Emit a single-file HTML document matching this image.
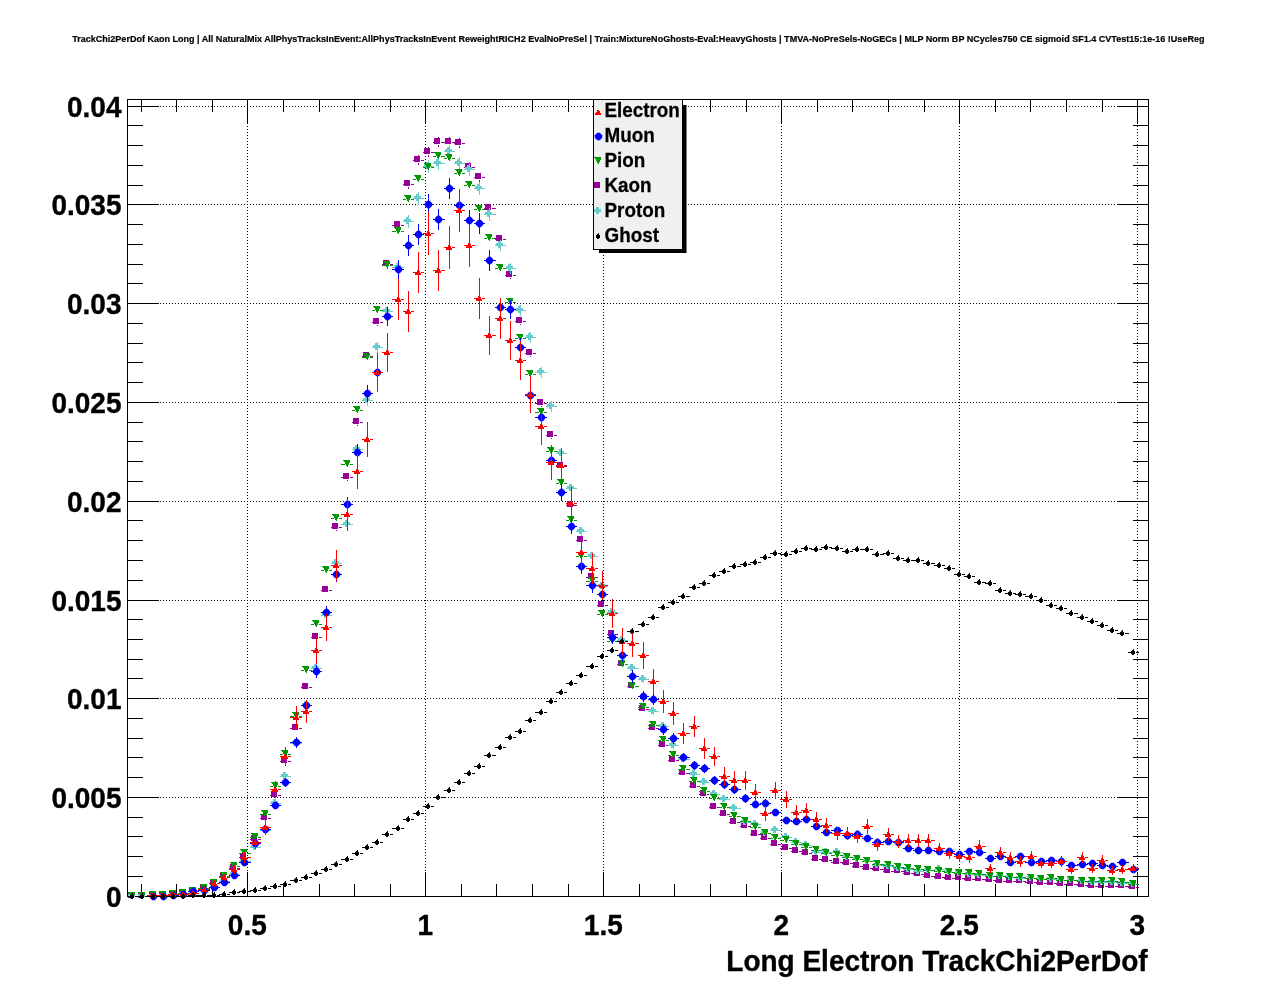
<!DOCTYPE html>
<html><head><meta charset="utf-8"><title>TrackChi2PerDof</title>
<style>html,body{margin:0;padding:0;background:#fff;}svg{display:block;}text{font-family:"Liberation Sans",Arial,Helvetica,sans-serif;font-weight:bold;fill:#000;}</style></head><body>
<svg width="1276" height="996" viewBox="0 0 1276 996">
<rect x="0" y="0" width="1276" height="996" fill="#fff"/>
<text x="72.2" y="42.3" font-size="9.4" stroke="#000" stroke-width="0.2" textLength="1132.3" lengthAdjust="spacingAndGlyphs">TrackChi2PerDof Kaon Long | All NaturalMix AllPhysTracksInEvent:AllPhysTracksInEvent ReweightRICH2 EvalNoPreSel | Train:MixtureNoGhosts-Eval:HeavyGhosts | TMVA-NoPreSels-NoGECs | MLP Norm BP NCycles750 CE sigmoid SF1.4 CVTest15:1e-16 !UseReg</text>
<g stroke="#000" stroke-width="1" stroke-dasharray="1 2" stroke-dashoffset="1" fill="none" shape-rendering="crispEdges">
<line x1="247.5" y1="99.5" x2="247.5" y2="896.5"/>
<line x1="425.5" y1="99.5" x2="425.5" y2="896.5"/>
<line x1="603.5" y1="99.5" x2="603.5" y2="896.5"/>
<line x1="781.5" y1="99.5" x2="781.5" y2="896.5"/>
<line x1="959.5" y1="99.5" x2="959.5" y2="896.5"/>
<line x1="1137.5" y1="99.5" x2="1137.5" y2="896.5"/>
<line x1="127.5" y1="797.5" x2="1148.5" y2="797.5"/>
<line x1="127.5" y1="698.5" x2="1148.5" y2="698.5"/>
<line x1="127.5" y1="600.5" x2="1148.5" y2="600.5"/>
<line x1="127.5" y1="501.5" x2="1148.5" y2="501.5"/>
<line x1="127.5" y1="402.5" x2="1148.5" y2="402.5"/>
<line x1="127.5" y1="303.5" x2="1148.5" y2="303.5"/>
<line x1="127.5" y1="204.5" x2="1148.5" y2="204.5"/>
<line x1="127.5" y1="106.5" x2="1148.5" y2="106.5"/>
</g>
<path id="kaon" fill="#990099" shape-rendering="crispEdges" d="M127 896h3v1h-3zM135 896h3v1h-3zM128 892h6v6h-6zM137 896h3v1h-3zM145 896h3v1h-3zM138 892h6v6h-6zM147 895h4v1h-4zM156 895h3v1h-3zM149 891h6v6h-6zM158 895h3v1h-3zM166 895h3v1h-3zM159 891h6v6h-6zM168 894h3v1h-3zM176 894h3v1h-3zM169 890h6v6h-6zM178 893h3v1h-3zM186 893h3v1h-3zM179 889h6v6h-6zM188 891h3v1h-3zM196 891h3v1h-3zM189 887h6v6h-6zM198 888h4v1h-4zM207 888h3v1h-3zM200 884h6v6h-6zM209 883h3v1h-3zM217 883h3v1h-3zM210 879h6v6h-6zM219 876h3v1h-3zM227 876h3v1h-3zM220 872h6v6h-6zM229 868h3v1h-3zM237 868h3v1h-3zM230 864h6v6h-6zM239 857h3v1h-3zM247 857h4v1h-4zM240 853h6v6h-6zM250 839h3v1h-3zM258 839h3v1h-3zM251 835h6v6h-6zM260 818h3v1h-3zM268 818h3v1h-3zM261 814h6v6h-6zM270 795h3v1h-3zM278 795h3v1h-3zM271 791h6v6h-6zM280 761h3v1h-3zM288 761h3v1h-3zM281 757h6v6h-6zM290 728h4v1h-4zM299 728h3v1h-3zM292 724h6v6h-6zM301 687h3v1h-3zM309 687h3v1h-3zM306 684h1v1h-1zM302 683h6v6h-6zM311 637h3v1h-3zM319 637h3v1h-3zM316 634h1v1h-1zM312 633h6v6h-6zM321 590h3v1h-3zM329 590h3v1h-3zM326 587h1v1h-1zM322 586h6v6h-6zM331 527h3v1h-3zM339 527h3v1h-3zM336 524h1v1h-1zM336 530h1v1h-1zM332 523h6v6h-6zM341 477h4v1h-4zM350 477h3v1h-3zM347 474h1v1h-1zM347 480h1v1h-1zM343 473h6v6h-6zM352 422h3v1h-3zM360 422h3v1h-3zM357 418h1v2h-1zM357 425h1v1h-1zM353 418h6v6h-6zM362 356h3v1h-3zM370 356h3v1h-3zM367 352h1v2h-1zM367 359h1v1h-1zM363 352h6v6h-6zM372 322h3v1h-3zM380 322h3v1h-3zM377 318h1v2h-1zM377 325h1v1h-1zM373 318h6v6h-6zM382 264h3v1h-3zM390 264h3v1h-3zM387 260h1v2h-1zM387 267h1v2h-1zM383 260h6v6h-6zM392 225h4v1h-4zM401 225h3v1h-3zM398 221h1v2h-1zM398 228h1v2h-1zM394 221h6v6h-6zM403 184h3v1h-3zM411 184h3v1h-3zM408 180h1v2h-1zM408 187h1v2h-1zM404 180h6v6h-6zM413 160h3v1h-3zM421 160h3v1h-3zM418 155h1v3h-1zM418 163h1v2h-1zM414 156h6v6h-6zM423 152h3v1h-3zM431 152h3v1h-3zM428 147h1v3h-1zM428 155h1v2h-1zM424 148h6v6h-6zM433 142h3v1h-3zM441 142h4v1h-4zM438 137h1v3h-1zM438 145h1v2h-1zM434 138h6v6h-6zM444 142h3v1h-3zM452 142h3v1h-3zM449 137h1v3h-1zM449 145h1v2h-1zM445 138h6v6h-6zM454 143h3v1h-3zM462 143h3v1h-3zM459 138h1v3h-1zM459 146h1v2h-1zM455 139h6v6h-6zM464 167h3v1h-3zM472 167h3v1h-3zM469 162h1v3h-1zM469 170h1v2h-1zM465 163h6v6h-6zM474 177h3v1h-3zM482 177h3v1h-3zM479 173h1v2h-1zM479 180h1v2h-1zM475 173h6v6h-6zM484 208h3v1h-3zM492 208h4v1h-4zM489 204h1v2h-1zM489 211h1v2h-1zM485 204h6v6h-6zM495 239h3v1h-3zM503 239h3v1h-3zM500 235h1v2h-1zM500 242h1v2h-1zM496 235h6v6h-6zM505 275h3v1h-3zM513 275h3v1h-3zM510 271h1v2h-1zM510 278h1v1h-1zM506 271h6v6h-6zM515 321h3v1h-3zM523 321h3v1h-3zM520 317h1v2h-1zM520 324h1v1h-1zM516 317h6v6h-6zM525 353h3v1h-3zM533 353h3v1h-3zM530 349h1v2h-1zM530 356h1v1h-1zM526 349h6v6h-6zM535 403h4v1h-4zM544 403h3v1h-3zM541 399h1v2h-1zM541 406h1v1h-1zM537 399h6v6h-6zM546 435h3v1h-3zM554 435h3v1h-3zM551 431h1v2h-1zM551 438h1v1h-1zM547 431h6v6h-6zM556 466h3v1h-3zM564 466h3v1h-3zM561 462h1v2h-1zM561 469h1v1h-1zM557 462h6v6h-6zM566 505h3v1h-3zM574 505h3v1h-3zM571 502h1v1h-1zM571 508h1v1h-1zM567 501h6v6h-6zM576 540h3v1h-3zM584 540h3v1h-3zM581 537h1v1h-1zM581 543h1v1h-1zM577 536h6v6h-6zM586 577h4v1h-4zM595 577h3v1h-3zM592 574h1v1h-1zM588 573h6v6h-6zM597 605h3v1h-3zM605 605h3v1h-3zM602 602h1v1h-1zM598 601h6v6h-6zM607 634h3v1h-3zM615 634h3v1h-3zM612 631h1v1h-1zM608 630h6v6h-6zM617 664h3v1h-3zM625 664h3v1h-3zM622 661h1v1h-1zM618 660h6v6h-6zM627 686h3v1h-3zM635 686h4v1h-4zM632 683h1v1h-1zM628 682h6v6h-6zM638 709h3v1h-3zM646 709h3v1h-3zM639 705h6v6h-6zM648 728h3v1h-3zM656 728h3v1h-3zM649 724h6v6h-6zM658 745h3v1h-3zM666 745h3v1h-3zM659 741h6v6h-6zM668 760h3v1h-3zM676 760h3v1h-3zM669 756h6v6h-6zM678 773h3v1h-3zM686 773h4v1h-4zM679 769h6v6h-6zM689 786h3v1h-3zM697 786h3v1h-3zM690 782h6v6h-6zM699 794h3v1h-3zM707 794h3v1h-3zM700 790h6v6h-6zM709 807h3v1h-3zM717 807h3v1h-3zM710 803h6v6h-6zM719 814h3v1h-3zM727 814h3v1h-3zM720 810h6v6h-6zM729 822h3v1h-3zM737 822h4v1h-4zM730 818h6v6h-6zM740 826h3v1h-3zM748 826h3v1h-3zM741 822h6v6h-6zM750 834h3v1h-3zM758 834h3v1h-3zM751 830h6v6h-6zM760 838h3v1h-3zM768 838h3v1h-3zM761 834h6v6h-6zM770 844h3v1h-3zM778 844h3v1h-3zM771 840h6v6h-6zM780 848h4v1h-4zM789 848h3v1h-3zM782 844h6v6h-6zM791 851h3v1h-3zM799 851h3v1h-3zM792 847h6v6h-6zM801 853h3v1h-3zM809 853h3v1h-3zM802 849h6v6h-6zM811 859h3v1h-3zM819 859h3v1h-3zM812 855h6v6h-6zM821 860h3v1h-3zM829 860h3v1h-3zM822 856h6v6h-6zM831 862h4v1h-4zM840 862h3v1h-3zM833 858h6v6h-6zM842 863h3v1h-3zM850 863h3v1h-3zM843 859h6v6h-6zM852 866h3v1h-3zM860 866h3v1h-3zM853 862h6v6h-6zM862 868h3v1h-3zM870 868h3v1h-3zM863 864h6v6h-6zM872 869h3v1h-3zM880 869h4v1h-4zM873 865h6v6h-6zM883 871h3v1h-3zM891 871h3v1h-3zM884 867h6v6h-6zM893 871h3v1h-3zM901 871h3v1h-3zM894 867h6v6h-6zM903 873h3v1h-3zM911 873h3v1h-3zM904 869h6v6h-6zM913 874h3v1h-3zM921 874h3v1h-3zM914 870h6v6h-6zM923 876h3v1h-3zM931 876h4v1h-4zM924 872h6v6h-6zM934 877h3v1h-3zM942 877h3v1h-3zM935 873h6v6h-6zM944 878h3v1h-3zM952 878h3v1h-3zM945 874h6v6h-6zM954 878h3v1h-3zM962 878h3v1h-3zM955 874h6v6h-6zM964 879h3v1h-3zM972 879h3v1h-3zM965 875h6v6h-6zM974 879h3v1h-3zM982 879h4v1h-4zM975 875h6v6h-6zM985 880h3v1h-3zM993 880h3v1h-3zM986 876h6v6h-6zM995 881h3v1h-3zM1003 881h3v1h-3zM996 877h6v6h-6zM1005 881h3v1h-3zM1013 881h3v1h-3zM1006 877h6v6h-6zM1015 881h3v1h-3zM1023 881h3v1h-3zM1016 877h6v6h-6zM1025 882h4v1h-4zM1034 882h3v1h-3zM1027 878h6v6h-6zM1036 883h3v1h-3zM1044 883h3v1h-3zM1037 879h6v6h-6zM1046 883h3v1h-3zM1054 883h3v1h-3zM1047 879h6v6h-6zM1056 884h3v1h-3zM1064 884h3v1h-3zM1057 880h6v6h-6zM1066 884h3v1h-3zM1074 884h4v1h-4zM1067 880h6v6h-6zM1077 885h3v1h-3zM1085 885h3v1h-3zM1078 881h6v6h-6zM1087 886h3v1h-3zM1095 886h3v1h-3zM1088 882h6v6h-6zM1097 886h3v1h-3zM1105 886h3v1h-3zM1098 882h6v6h-6zM1107 886h3v1h-3zM1115 886h3v1h-3zM1108 882h6v6h-6zM1117 886h3v1h-3zM1125 886h4v1h-4zM1118 882h6v6h-6zM1128 887h3v1h-3zM1136 887h3v1h-3zM1129 883h6v6h-6z"/>
<rect x="127.5" y="99.5" width="1021.0" height="797.0" fill="none" stroke="#000" stroke-width="1" shape-rendering="crispEdges"/>
<g stroke="#000" stroke-width="1" fill="none" shape-rendering="crispEdges">
<line x1="141.5" y1="896.5" x2="141.5" y2="884.0"/>
<line x1="141.5" y1="99.5" x2="141.5" y2="111.5"/>
<line x1="176.5" y1="896.5" x2="176.5" y2="884.0"/>
<line x1="176.5" y1="99.5" x2="176.5" y2="111.5"/>
<line x1="212.5" y1="896.5" x2="212.5" y2="884.0"/>
<line x1="212.5" y1="99.5" x2="212.5" y2="111.5"/>
<line x1="247.5" y1="896.5" x2="247.5" y2="872.0"/>
<line x1="247.5" y1="99.5" x2="247.5" y2="123.5"/>
<line x1="283.5" y1="896.5" x2="283.5" y2="884.0"/>
<line x1="283.5" y1="99.5" x2="283.5" y2="111.5"/>
<line x1="319.5" y1="896.5" x2="319.5" y2="884.0"/>
<line x1="319.5" y1="99.5" x2="319.5" y2="111.5"/>
<line x1="354.5" y1="896.5" x2="354.5" y2="884.0"/>
<line x1="354.5" y1="99.5" x2="354.5" y2="111.5"/>
<line x1="390.5" y1="896.5" x2="390.5" y2="884.0"/>
<line x1="390.5" y1="99.5" x2="390.5" y2="111.5"/>
<line x1="425.5" y1="896.5" x2="425.5" y2="872.0"/>
<line x1="425.5" y1="99.5" x2="425.5" y2="123.5"/>
<line x1="461.5" y1="896.5" x2="461.5" y2="884.0"/>
<line x1="461.5" y1="99.5" x2="461.5" y2="111.5"/>
<line x1="496.5" y1="896.5" x2="496.5" y2="884.0"/>
<line x1="496.5" y1="99.5" x2="496.5" y2="111.5"/>
<line x1="532.5" y1="896.5" x2="532.5" y2="884.0"/>
<line x1="532.5" y1="99.5" x2="532.5" y2="111.5"/>
<line x1="568.5" y1="896.5" x2="568.5" y2="884.0"/>
<line x1="568.5" y1="99.5" x2="568.5" y2="111.5"/>
<line x1="603.5" y1="896.5" x2="603.5" y2="872.0"/>
<line x1="603.5" y1="99.5" x2="603.5" y2="123.5"/>
<line x1="639.5" y1="896.5" x2="639.5" y2="884.0"/>
<line x1="639.5" y1="99.5" x2="639.5" y2="111.5"/>
<line x1="674.5" y1="896.5" x2="674.5" y2="884.0"/>
<line x1="674.5" y1="99.5" x2="674.5" y2="111.5"/>
<line x1="710.5" y1="896.5" x2="710.5" y2="884.0"/>
<line x1="710.5" y1="99.5" x2="710.5" y2="111.5"/>
<line x1="746.5" y1="896.5" x2="746.5" y2="884.0"/>
<line x1="746.5" y1="99.5" x2="746.5" y2="111.5"/>
<line x1="781.5" y1="896.5" x2="781.5" y2="872.0"/>
<line x1="781.5" y1="99.5" x2="781.5" y2="123.5"/>
<line x1="817.5" y1="896.5" x2="817.5" y2="884.0"/>
<line x1="817.5" y1="99.5" x2="817.5" y2="111.5"/>
<line x1="852.5" y1="896.5" x2="852.5" y2="884.0"/>
<line x1="852.5" y1="99.5" x2="852.5" y2="111.5"/>
<line x1="888.5" y1="896.5" x2="888.5" y2="884.0"/>
<line x1="888.5" y1="99.5" x2="888.5" y2="111.5"/>
<line x1="924.5" y1="896.5" x2="924.5" y2="884.0"/>
<line x1="924.5" y1="99.5" x2="924.5" y2="111.5"/>
<line x1="959.5" y1="896.5" x2="959.5" y2="872.0"/>
<line x1="959.5" y1="99.5" x2="959.5" y2="123.5"/>
<line x1="995.5" y1="896.5" x2="995.5" y2="884.0"/>
<line x1="995.5" y1="99.5" x2="995.5" y2="111.5"/>
<line x1="1030.5" y1="896.5" x2="1030.5" y2="884.0"/>
<line x1="1030.5" y1="99.5" x2="1030.5" y2="111.5"/>
<line x1="1066.5" y1="896.5" x2="1066.5" y2="884.0"/>
<line x1="1066.5" y1="99.5" x2="1066.5" y2="111.5"/>
<line x1="1102.5" y1="896.5" x2="1102.5" y2="884.0"/>
<line x1="1102.5" y1="99.5" x2="1102.5" y2="111.5"/>
<line x1="1137.5" y1="896.5" x2="1137.5" y2="872.0"/>
<line x1="1137.5" y1="99.5" x2="1137.5" y2="123.5"/>
<line x1="127.5" y1="896.5" x2="158.5" y2="896.5"/>
<line x1="1148.5" y1="896.5" x2="1117.5" y2="896.5"/>
<line x1="127.5" y1="876.5" x2="143.0" y2="876.5"/>
<line x1="1148.5" y1="876.5" x2="1133.0" y2="876.5"/>
<line x1="127.5" y1="856.5" x2="143.0" y2="856.5"/>
<line x1="1148.5" y1="856.5" x2="1133.0" y2="856.5"/>
<line x1="127.5" y1="836.5" x2="143.0" y2="836.5"/>
<line x1="1148.5" y1="836.5" x2="1133.0" y2="836.5"/>
<line x1="127.5" y1="817.5" x2="143.0" y2="817.5"/>
<line x1="1148.5" y1="817.5" x2="1133.0" y2="817.5"/>
<line x1="127.5" y1="797.5" x2="158.5" y2="797.5"/>
<line x1="1148.5" y1="797.5" x2="1117.5" y2="797.5"/>
<line x1="127.5" y1="777.5" x2="143.0" y2="777.5"/>
<line x1="1148.5" y1="777.5" x2="1133.0" y2="777.5"/>
<line x1="127.5" y1="757.5" x2="143.0" y2="757.5"/>
<line x1="1148.5" y1="757.5" x2="1133.0" y2="757.5"/>
<line x1="127.5" y1="738.5" x2="143.0" y2="738.5"/>
<line x1="1148.5" y1="738.5" x2="1133.0" y2="738.5"/>
<line x1="127.5" y1="718.5" x2="143.0" y2="718.5"/>
<line x1="1148.5" y1="718.5" x2="1133.0" y2="718.5"/>
<line x1="127.5" y1="698.5" x2="158.5" y2="698.5"/>
<line x1="1148.5" y1="698.5" x2="1117.5" y2="698.5"/>
<line x1="127.5" y1="678.5" x2="143.0" y2="678.5"/>
<line x1="1148.5" y1="678.5" x2="1133.0" y2="678.5"/>
<line x1="127.5" y1="659.5" x2="143.0" y2="659.5"/>
<line x1="1148.5" y1="659.5" x2="1133.0" y2="659.5"/>
<line x1="127.5" y1="639.5" x2="143.0" y2="639.5"/>
<line x1="1148.5" y1="639.5" x2="1133.0" y2="639.5"/>
<line x1="127.5" y1="619.5" x2="143.0" y2="619.5"/>
<line x1="1148.5" y1="619.5" x2="1133.0" y2="619.5"/>
<line x1="127.5" y1="600.5" x2="158.5" y2="600.5"/>
<line x1="1148.5" y1="600.5" x2="1117.5" y2="600.5"/>
<line x1="127.5" y1="580.5" x2="143.0" y2="580.5"/>
<line x1="1148.5" y1="580.5" x2="1133.0" y2="580.5"/>
<line x1="127.5" y1="560.5" x2="143.0" y2="560.5"/>
<line x1="1148.5" y1="560.5" x2="1133.0" y2="560.5"/>
<line x1="127.5" y1="540.5" x2="143.0" y2="540.5"/>
<line x1="1148.5" y1="540.5" x2="1133.0" y2="540.5"/>
<line x1="127.5" y1="520.5" x2="143.0" y2="520.5"/>
<line x1="1148.5" y1="520.5" x2="1133.0" y2="520.5"/>
<line x1="127.5" y1="501.5" x2="158.5" y2="501.5"/>
<line x1="1148.5" y1="501.5" x2="1117.5" y2="501.5"/>
<line x1="127.5" y1="481.5" x2="143.0" y2="481.5"/>
<line x1="1148.5" y1="481.5" x2="1133.0" y2="481.5"/>
<line x1="127.5" y1="461.5" x2="143.0" y2="461.5"/>
<line x1="1148.5" y1="461.5" x2="1133.0" y2="461.5"/>
<line x1="127.5" y1="441.5" x2="143.0" y2="441.5"/>
<line x1="1148.5" y1="441.5" x2="1133.0" y2="441.5"/>
<line x1="127.5" y1="422.5" x2="143.0" y2="422.5"/>
<line x1="1148.5" y1="422.5" x2="1133.0" y2="422.5"/>
<line x1="127.5" y1="402.5" x2="158.5" y2="402.5"/>
<line x1="1148.5" y1="402.5" x2="1117.5" y2="402.5"/>
<line x1="127.5" y1="382.5" x2="143.0" y2="382.5"/>
<line x1="1148.5" y1="382.5" x2="1133.0" y2="382.5"/>
<line x1="127.5" y1="362.5" x2="143.0" y2="362.5"/>
<line x1="1148.5" y1="362.5" x2="1133.0" y2="362.5"/>
<line x1="127.5" y1="343.5" x2="143.0" y2="343.5"/>
<line x1="1148.5" y1="343.5" x2="1133.0" y2="343.5"/>
<line x1="127.5" y1="323.5" x2="143.0" y2="323.5"/>
<line x1="1148.5" y1="323.5" x2="1133.0" y2="323.5"/>
<line x1="127.5" y1="303.5" x2="158.5" y2="303.5"/>
<line x1="1148.5" y1="303.5" x2="1117.5" y2="303.5"/>
<line x1="127.5" y1="283.5" x2="143.0" y2="283.5"/>
<line x1="1148.5" y1="283.5" x2="1133.0" y2="283.5"/>
<line x1="127.5" y1="264.5" x2="143.0" y2="264.5"/>
<line x1="1148.5" y1="264.5" x2="1133.0" y2="264.5"/>
<line x1="127.5" y1="244.5" x2="143.0" y2="244.5"/>
<line x1="1148.5" y1="244.5" x2="1133.0" y2="244.5"/>
<line x1="127.5" y1="224.5" x2="143.0" y2="224.5"/>
<line x1="1148.5" y1="224.5" x2="1133.0" y2="224.5"/>
<line x1="127.5" y1="204.5" x2="158.5" y2="204.5"/>
<line x1="1148.5" y1="204.5" x2="1117.5" y2="204.5"/>
<line x1="127.5" y1="185.5" x2="143.0" y2="185.5"/>
<line x1="1148.5" y1="185.5" x2="1133.0" y2="185.5"/>
<line x1="127.5" y1="165.5" x2="143.0" y2="165.5"/>
<line x1="1148.5" y1="165.5" x2="1133.0" y2="165.5"/>
<line x1="127.5" y1="145.5" x2="143.0" y2="145.5"/>
<line x1="1148.5" y1="145.5" x2="1133.0" y2="145.5"/>
<line x1="127.5" y1="125.5" x2="143.0" y2="125.5"/>
<line x1="1148.5" y1="125.5" x2="1133.0" y2="125.5"/>
<line x1="127.5" y1="106.5" x2="158.5" y2="106.5"/>
<line x1="1148.5" y1="106.5" x2="1117.5" y2="106.5"/>
</g>
<path id="proton" fill="#66cccc" shape-rendering="crispEdges" d="M127 896h3v1h-3zM135 896h3v1h-3zM130 892h3v2h-3zM128 894h7v3h-7zM130 897h3v2h-3zM137 896h3v1h-3zM145 896h3v1h-3zM140 892h3v2h-3zM138 894h7v3h-7zM140 897h3v2h-3zM147 896h4v1h-4zM156 896h3v1h-3zM151 892h3v2h-3zM149 894h7v3h-7zM151 897h3v2h-3zM158 896h3v1h-3zM166 896h3v1h-3zM161 892h3v2h-3zM159 894h7v3h-7zM161 897h3v2h-3zM168 895h3v1h-3zM176 895h3v1h-3zM171 891h3v2h-3zM169 893h7v3h-7zM171 896h3v2h-3zM178 894h3v1h-3zM186 894h3v1h-3zM181 890h3v2h-3zM179 892h7v3h-7zM181 895h3v2h-3zM188 893h3v1h-3zM196 893h3v1h-3zM191 889h3v2h-3zM189 891h7v3h-7zM191 894h3v2h-3zM198 890h4v1h-4zM207 890h3v1h-3zM202 886h3v2h-3zM200 888h7v3h-7zM202 891h3v2h-3zM209 887h3v1h-3zM217 887h3v1h-3zM212 883h3v2h-3zM210 885h7v3h-7zM212 888h3v2h-3zM219 881h3v1h-3zM227 881h3v1h-3zM222 877h3v2h-3zM220 879h7v3h-7zM222 882h3v2h-3zM229 874h3v1h-3zM237 874h3v1h-3zM232 870h3v2h-3zM230 872h7v3h-7zM232 875h3v2h-3zM239 861h3v1h-3zM247 861h4v1h-4zM242 857h3v2h-3zM240 859h7v3h-7zM242 862h3v2h-3zM250 847h3v1h-3zM258 847h3v1h-3zM253 843h3v2h-3zM251 845h7v3h-7zM253 848h3v2h-3zM260 830h3v1h-3zM268 830h3v1h-3zM263 826h3v2h-3zM261 828h7v3h-7zM263 831h3v2h-3zM270 803h3v1h-3zM278 803h3v1h-3zM273 799h3v2h-3zM271 801h7v3h-7zM273 804h3v2h-3zM280 776h3v1h-3zM288 776h3v1h-3zM283 772h3v2h-3zM281 774h7v3h-7zM283 777h3v2h-3zM290 743h4v1h-4zM299 743h3v1h-3zM296 740h1v1h-1zM296 746h1v1h-1zM294 739h3v2h-3zM292 741h7v3h-7zM294 744h3v2h-3zM301 705h3v1h-3zM309 705h3v1h-3zM306 702h1v1h-1zM306 708h1v1h-1zM304 701h3v2h-3zM302 703h7v3h-7zM304 706h3v2h-3zM311 668h3v1h-3zM319 668h3v1h-3zM316 665h1v1h-1zM316 671h1v1h-1zM314 664h3v2h-3zM312 666h7v3h-7zM314 669h3v2h-3zM321 615h3v1h-3zM329 615h3v1h-3zM326 612h1v1h-1zM326 618h1v1h-1zM324 611h3v2h-3zM322 613h7v3h-7zM324 616h3v2h-3zM331 563h3v1h-3zM339 563h3v1h-3zM336 559h1v2h-1zM336 566h1v2h-1zM334 559h3v2h-3zM332 561h7v3h-7zM334 564h3v2h-3zM341 524h4v1h-4zM350 524h3v1h-3zM347 520h1v2h-1zM347 527h1v2h-1zM345 520h3v2h-3zM343 522h7v3h-7zM345 525h3v2h-3zM352 449h3v1h-3zM360 449h3v1h-3zM357 445h1v2h-1zM357 452h1v2h-1zM355 445h3v2h-3zM353 447h7v3h-7zM355 450h3v2h-3zM362 400h3v1h-3zM370 400h3v1h-3zM367 395h1v3h-1zM367 403h1v3h-1zM365 396h3v2h-3zM363 398h7v3h-7zM365 401h3v2h-3zM372 347h3v1h-3zM380 347h3v1h-3zM377 342h1v3h-1zM377 350h1v3h-1zM375 343h3v2h-3zM373 345h7v3h-7zM375 348h3v2h-3zM382 311h3v1h-3zM390 311h3v1h-3zM387 306h1v3h-1zM387 314h1v3h-1zM385 307h3v2h-3zM383 309h7v3h-7zM385 312h3v2h-3zM392 267h4v1h-4zM401 267h3v1h-3zM398 262h1v3h-1zM398 270h1v3h-1zM396 263h3v2h-3zM394 265h7v3h-7zM396 268h3v2h-3zM403 221h3v1h-3zM411 221h3v1h-3zM408 215h1v4h-1zM408 224h1v4h-1zM406 217h3v2h-3zM404 219h7v3h-7zM406 222h3v2h-3zM413 198h3v1h-3zM421 198h3v1h-3zM418 192h1v4h-1zM418 201h1v4h-1zM416 194h3v2h-3zM414 196h7v3h-7zM416 199h3v2h-3zM423 166h3v1h-3zM431 166h3v1h-3zM428 160h1v4h-1zM428 169h1v4h-1zM426 162h3v2h-3zM424 164h7v3h-7zM426 167h3v2h-3zM433 163h3v1h-3zM441 163h4v1h-4zM438 157h1v4h-1zM438 166h1v4h-1zM436 159h3v2h-3zM434 161h7v3h-7zM436 164h3v2h-3zM444 151h3v1h-3zM452 151h3v1h-3zM449 145h1v4h-1zM449 154h1v4h-1zM447 147h3v2h-3zM445 149h7v3h-7zM447 152h3v2h-3zM454 163h3v1h-3zM462 163h3v1h-3zM459 157h1v4h-1zM459 166h1v4h-1zM457 159h3v2h-3zM455 161h7v3h-7zM457 164h3v2h-3zM464 169h3v1h-3zM472 169h3v1h-3zM469 163h1v4h-1zM469 172h1v4h-1zM467 165h3v2h-3zM465 167h7v3h-7zM467 170h3v2h-3zM474 188h3v1h-3zM482 188h3v1h-3zM479 182h1v4h-1zM479 191h1v4h-1zM477 184h3v2h-3zM475 186h7v3h-7zM477 189h3v2h-3zM484 214h3v1h-3zM492 214h4v1h-4zM489 208h1v4h-1zM489 217h1v4h-1zM487 210h3v2h-3zM485 212h7v3h-7zM487 215h3v2h-3zM495 245h3v1h-3zM503 245h3v1h-3zM500 240h1v3h-1zM500 248h1v3h-1zM498 241h3v2h-3zM496 243h7v3h-7zM498 246h3v2h-3zM505 268h3v1h-3zM513 268h3v1h-3zM510 263h1v3h-1zM510 271h1v3h-1zM508 264h3v2h-3zM506 266h7v3h-7zM508 269h3v2h-3zM515 310h3v1h-3zM523 310h3v1h-3zM520 305h1v3h-1zM520 313h1v3h-1zM518 306h3v2h-3zM516 308h7v3h-7zM518 311h3v2h-3zM525 337h3v1h-3zM533 337h3v1h-3zM530 332h1v3h-1zM530 340h1v3h-1zM528 333h3v2h-3zM526 335h7v3h-7zM528 338h3v2h-3zM535 372h4v1h-4zM544 372h3v1h-3zM541 367h1v3h-1zM541 375h1v3h-1zM539 368h3v2h-3zM537 370h7v3h-7zM539 373h3v2h-3zM546 406h3v1h-3zM554 406h3v1h-3zM551 401h1v3h-1zM551 409h1v3h-1zM549 402h3v2h-3zM547 404h7v3h-7zM549 407h3v2h-3zM556 453h3v1h-3zM564 453h3v1h-3zM561 449h1v2h-1zM561 456h1v2h-1zM559 449h3v2h-3zM557 451h7v3h-7zM559 454h3v2h-3zM566 488h3v1h-3zM574 488h3v1h-3zM571 484h1v2h-1zM571 491h1v2h-1zM569 484h3v2h-3zM567 486h7v3h-7zM569 489h3v2h-3zM576 531h3v1h-3zM584 531h3v1h-3zM581 527h1v2h-1zM581 534h1v2h-1zM579 527h3v2h-3zM577 529h7v3h-7zM579 532h3v2h-3zM586 556h4v1h-4zM595 556h3v1h-3zM592 552h1v2h-1zM592 559h1v2h-1zM590 552h3v2h-3zM588 554h7v3h-7zM590 557h3v2h-3zM597 586h3v1h-3zM605 586h3v1h-3zM602 582h1v2h-1zM602 589h1v2h-1zM600 582h3v2h-3zM598 584h7v3h-7zM600 587h3v2h-3zM607 612h3v1h-3zM615 612h3v1h-3zM612 608h1v2h-1zM612 615h1v2h-1zM610 608h3v2h-3zM608 610h7v3h-7zM610 613h3v2h-3zM617 640h3v1h-3zM625 640h3v1h-3zM622 637h1v1h-1zM622 643h1v1h-1zM620 636h3v2h-3zM618 638h7v3h-7zM620 641h3v2h-3zM627 668h3v1h-3zM635 668h4v1h-4zM632 665h1v1h-1zM632 671h1v1h-1zM630 664h3v2h-3zM628 666h7v3h-7zM630 669h3v2h-3zM638 679h3v1h-3zM646 679h3v1h-3zM643 676h1v1h-1zM643 682h1v1h-1zM641 675h3v2h-3zM639 677h7v3h-7zM641 680h3v2h-3zM648 711h3v1h-3zM656 711h3v1h-3zM653 708h1v1h-1zM653 714h1v1h-1zM651 707h3v2h-3zM649 709h7v3h-7zM651 712h3v2h-3zM658 726h3v1h-3zM666 726h3v1h-3zM663 723h1v1h-1zM663 729h1v1h-1zM661 722h3v2h-3zM659 724h7v3h-7zM661 727h3v2h-3zM668 745h3v1h-3zM676 745h3v1h-3zM673 742h1v1h-1zM673 748h1v1h-1zM671 741h3v2h-3zM669 743h7v3h-7zM671 746h3v2h-3zM678 759h3v1h-3zM686 759h4v1h-4zM681 755h3v2h-3zM679 757h7v3h-7zM681 760h3v2h-3zM689 774h3v1h-3zM697 774h3v1h-3zM692 770h3v2h-3zM690 772h7v3h-7zM692 775h3v2h-3zM699 782h3v1h-3zM707 782h3v1h-3zM702 778h3v2h-3zM700 780h7v3h-7zM702 783h3v2h-3zM709 794h3v1h-3zM717 794h3v1h-3zM712 790h3v2h-3zM710 792h7v3h-7zM712 795h3v2h-3zM719 799h3v1h-3zM727 799h3v1h-3zM722 795h3v2h-3zM720 797h7v3h-7zM722 800h3v2h-3zM729 808h3v1h-3zM737 808h4v1h-4zM732 804h3v2h-3zM730 806h7v3h-7zM732 809h3v2h-3zM740 822h3v1h-3zM748 822h3v1h-3zM743 818h3v2h-3zM741 820h7v3h-7zM743 823h3v2h-3zM750 824h3v1h-3zM758 824h3v1h-3zM753 820h3v2h-3zM751 822h7v3h-7zM753 825h3v2h-3zM760 833h3v1h-3zM768 833h3v1h-3zM763 829h3v2h-3zM761 831h7v3h-7zM763 834h3v2h-3zM770 830h3v1h-3zM778 830h3v1h-3zM773 826h3v2h-3zM771 828h7v3h-7zM773 831h3v2h-3zM780 837h4v1h-4zM789 837h3v1h-3zM784 833h3v2h-3zM782 835h7v3h-7zM784 838h3v2h-3zM791 842h3v1h-3zM799 842h3v1h-3zM794 838h3v2h-3zM792 840h7v3h-7zM794 843h3v2h-3zM801 845h3v1h-3zM809 845h3v1h-3zM804 841h3v2h-3zM802 843h7v3h-7zM804 846h3v2h-3zM811 852h3v1h-3zM819 852h3v1h-3zM814 848h3v2h-3zM812 850h7v3h-7zM814 853h3v2h-3zM821 852h3v1h-3zM829 852h3v1h-3zM824 848h3v2h-3zM822 850h7v3h-7zM824 853h3v2h-3zM831 852h4v1h-4zM840 852h3v1h-3zM835 848h3v2h-3zM833 850h7v3h-7zM835 853h3v2h-3zM842 857h3v1h-3zM850 857h3v1h-3zM845 853h3v2h-3zM843 855h7v3h-7zM845 858h3v2h-3zM852 859h3v1h-3zM860 859h3v1h-3zM855 855h3v2h-3zM853 857h7v3h-7zM855 860h3v2h-3zM862 861h3v1h-3zM870 861h3v1h-3zM865 857h3v2h-3zM863 859h7v3h-7zM865 862h3v2h-3zM872 865h3v1h-3zM880 865h4v1h-4zM875 861h3v2h-3zM873 863h7v3h-7zM875 866h3v2h-3zM883 866h3v1h-3zM891 866h3v1h-3zM886 862h3v2h-3zM884 864h7v3h-7zM886 867h3v2h-3zM893 868h3v1h-3zM901 868h3v1h-3zM896 864h3v2h-3zM894 866h7v3h-7zM896 869h3v2h-3zM903 869h3v1h-3zM911 869h3v1h-3zM906 865h3v2h-3zM904 867h7v3h-7zM906 870h3v2h-3zM913 871h3v1h-3zM921 871h3v1h-3zM916 867h3v2h-3zM914 869h7v3h-7zM916 872h3v2h-3zM923 870h3v1h-3zM931 870h4v1h-4zM926 866h3v2h-3zM924 868h7v3h-7zM926 871h3v2h-3zM934 869h3v1h-3zM942 869h3v1h-3zM937 865h3v2h-3zM935 867h7v3h-7zM937 870h3v2h-3zM944 872h3v1h-3zM952 872h3v1h-3zM947 868h3v2h-3zM945 870h7v3h-7zM947 873h3v2h-3zM954 873h3v1h-3zM962 873h3v1h-3zM957 869h3v2h-3zM955 871h7v3h-7zM957 874h3v2h-3zM964 874h3v1h-3zM972 874h3v1h-3zM967 870h3v2h-3zM965 872h7v3h-7zM967 875h3v2h-3zM974 875h3v1h-3zM982 875h4v1h-4zM977 871h3v2h-3zM975 873h7v3h-7zM977 876h3v2h-3zM985 876h3v1h-3zM993 876h3v1h-3zM988 872h3v2h-3zM986 874h7v3h-7zM988 877h3v2h-3zM995 876h3v1h-3zM1003 876h3v1h-3zM998 872h3v2h-3zM996 874h7v3h-7zM998 877h3v2h-3zM1005 877h3v1h-3zM1013 877h3v1h-3zM1008 873h3v2h-3zM1006 875h7v3h-7zM1008 878h3v2h-3zM1015 878h3v1h-3zM1023 878h3v1h-3zM1018 874h3v2h-3zM1016 876h7v3h-7zM1018 879h3v2h-3zM1025 878h4v1h-4zM1034 878h3v1h-3zM1029 874h3v2h-3zM1027 876h7v3h-7zM1029 879h3v2h-3zM1036 879h3v1h-3zM1044 879h3v1h-3zM1039 875h3v2h-3zM1037 877h7v3h-7zM1039 880h3v2h-3zM1046 879h3v1h-3zM1054 879h3v1h-3zM1049 875h3v2h-3zM1047 877h7v3h-7zM1049 880h3v2h-3zM1056 880h3v1h-3zM1064 880h3v1h-3zM1059 876h3v2h-3zM1057 878h7v3h-7zM1059 881h3v2h-3zM1066 880h3v1h-3zM1074 880h4v1h-4zM1069 876h3v2h-3zM1067 878h7v3h-7zM1069 881h3v2h-3zM1077 881h3v1h-3zM1085 881h3v1h-3zM1080 877h3v2h-3zM1078 879h7v3h-7zM1080 882h3v2h-3zM1087 882h3v1h-3zM1095 882h3v1h-3zM1090 878h3v2h-3zM1088 880h7v3h-7zM1090 883h3v2h-3zM1097 882h3v1h-3zM1105 882h3v1h-3zM1100 878h3v2h-3zM1098 880h7v3h-7zM1100 883h3v2h-3zM1107 882h3v1h-3zM1115 882h3v1h-3zM1110 878h3v2h-3zM1108 880h7v3h-7zM1110 883h3v2h-3zM1117 883h3v1h-3zM1125 883h4v1h-4zM1120 879h3v2h-3zM1118 881h7v3h-7zM1120 884h3v2h-3zM1128 884h3v1h-3zM1136 884h3v1h-3zM1131 880h3v2h-3zM1129 882h7v3h-7zM1131 885h3v2h-3z"/>
<path id="pion" fill="#009900" shape-rendering="crispEdges" d="M127 896h3v1h-3zM135 896h3v1h-3zM128 892h7v1h-7zM129 893h6v1h-6zM130 894h5v1h-5zM130 895h4v1h-4zM131 896h3v1h-3zM131 897h2v1h-2zM132 898h1v1h-1zM137 896h3v1h-3zM145 896h3v1h-3zM138 892h7v1h-7zM139 893h6v1h-6zM140 894h5v1h-5zM140 895h4v1h-4zM141 896h3v1h-3zM141 897h2v1h-2zM142 898h1v1h-1zM147 895h4v1h-4zM156 895h3v1h-3zM149 891h7v1h-7zM150 892h6v1h-6zM151 893h5v1h-5zM151 894h4v1h-4zM152 895h3v1h-3zM152 896h2v1h-2zM153 897h1v1h-1zM158 895h3v1h-3zM166 895h3v1h-3zM159 891h7v1h-7zM160 892h6v1h-6zM161 893h5v1h-5zM161 894h4v1h-4zM162 895h3v1h-3zM162 896h2v1h-2zM163 897h1v1h-1zM168 894h3v1h-3zM176 894h3v1h-3zM169 890h7v1h-7zM170 891h6v1h-6zM171 892h5v1h-5zM171 893h4v1h-4zM172 894h3v1h-3zM172 895h2v1h-2zM173 896h1v1h-1zM178 893h3v1h-3zM186 893h3v1h-3zM179 889h7v1h-7zM180 890h6v1h-6zM181 891h5v1h-5zM181 892h4v1h-4zM182 893h3v1h-3zM182 894h2v1h-2zM183 895h1v1h-1zM188 891h3v1h-3zM196 891h3v1h-3zM189 887h7v1h-7zM190 888h6v1h-6zM191 889h5v1h-5zM191 890h4v1h-4zM192 891h3v1h-3zM192 892h2v1h-2zM193 893h1v1h-1zM198 888h4v1h-4zM207 888h3v1h-3zM200 884h7v1h-7zM201 885h6v1h-6zM202 886h5v1h-5zM202 887h4v1h-4zM203 888h3v1h-3zM203 889h2v1h-2zM204 890h1v1h-1zM209 883h3v1h-3zM217 883h3v1h-3zM210 879h7v1h-7zM211 880h6v1h-6zM212 881h5v1h-5zM212 882h4v1h-4zM213 883h3v1h-3zM213 884h2v1h-2zM214 885h1v1h-1zM219 876h3v1h-3zM227 876h3v1h-3zM220 872h7v1h-7zM221 873h6v1h-6zM222 874h5v1h-5zM222 875h4v1h-4zM223 876h3v1h-3zM223 877h2v1h-2zM224 878h1v1h-1zM229 866h3v1h-3zM237 866h3v1h-3zM230 862h7v1h-7zM231 863h6v1h-6zM232 864h5v1h-5zM232 865h4v1h-4zM233 866h3v1h-3zM233 867h2v1h-2zM234 868h1v1h-1zM239 853h3v1h-3zM247 853h4v1h-4zM240 849h7v1h-7zM241 850h6v1h-6zM242 851h5v1h-5zM242 852h4v1h-4zM243 853h3v1h-3zM243 854h2v1h-2zM244 855h1v1h-1zM250 837h3v1h-3zM258 837h3v1h-3zM251 833h7v1h-7zM252 834h6v1h-6zM253 835h5v1h-5zM253 836h4v1h-4zM254 837h3v1h-3zM254 838h2v1h-2zM255 839h1v1h-1zM260 814h3v1h-3zM268 814h3v1h-3zM261 810h7v1h-7zM262 811h6v1h-6zM263 812h5v1h-5zM263 813h4v1h-4zM264 814h3v1h-3zM264 815h2v1h-2zM265 816h1v1h-1zM270 786h3v1h-3zM278 786h3v1h-3zM271 782h7v1h-7zM272 783h6v1h-6zM273 784h5v1h-5zM273 785h4v1h-4zM274 786h3v1h-3zM274 787h2v1h-2zM275 788h1v1h-1zM280 754h3v1h-3zM288 754h3v1h-3zM281 750h7v1h-7zM282 751h6v1h-6zM283 752h5v1h-5zM283 753h4v1h-4zM284 754h3v1h-3zM284 755h2v1h-2zM285 756h1v1h-1zM290 716h4v1h-4zM299 716h3v1h-3zM292 712h7v1h-7zM293 713h6v1h-6zM294 714h5v1h-5zM294 715h4v1h-4zM295 716h3v1h-3zM295 717h2v1h-2zM296 718h1v1h-1zM301 670h3v1h-3zM309 670h3v1h-3zM302 666h7v1h-7zM303 667h6v1h-6zM304 668h5v1h-5zM304 669h4v1h-4zM305 670h3v1h-3zM305 671h2v1h-2zM306 672h1v1h-1zM311 624h3v1h-3zM319 624h3v1h-3zM312 620h7v1h-7zM313 621h6v1h-6zM314 622h5v1h-5zM314 623h4v1h-4zM315 624h3v1h-3zM315 625h2v1h-2zM316 626h1v1h-1zM321 570h3v1h-3zM329 570h3v1h-3zM322 566h7v1h-7zM323 567h6v1h-6zM324 568h5v1h-5zM324 569h4v1h-4zM325 570h3v1h-3zM325 571h2v1h-2zM326 572h1v1h-1zM331 518h3v1h-3zM339 518h3v1h-3zM332 514h7v1h-7zM333 515h6v1h-6zM334 516h5v1h-5zM334 517h4v1h-4zM335 518h3v1h-3zM335 519h2v1h-2zM336 520h1v1h-1zM341 464h4v1h-4zM350 464h3v1h-3zM343 460h7v1h-7zM344 461h6v1h-6zM345 462h5v1h-5zM345 463h4v1h-4zM346 464h3v1h-3zM346 465h2v1h-2zM347 466h1v1h-1zM352 410h3v1h-3zM360 410h3v1h-3zM353 406h7v1h-7zM354 407h6v1h-6zM355 408h5v1h-5zM355 409h4v1h-4zM356 410h3v1h-3zM356 411h2v1h-2zM357 412h1v1h-1zM362 357h3v1h-3zM370 357h3v1h-3zM363 353h7v1h-7zM364 354h6v1h-6zM365 355h5v1h-5zM365 356h4v1h-4zM366 357h3v1h-3zM366 358h2v1h-2zM367 359h1v1h-1zM372 310h3v1h-3zM380 310h3v1h-3zM373 306h7v1h-7zM374 307h6v1h-6zM375 308h5v1h-5zM375 309h4v1h-4zM376 310h3v1h-3zM376 311h2v1h-2zM377 312h1v1h-1zM382 265h3v1h-3zM390 265h3v1h-3zM383 261h7v1h-7zM384 262h6v1h-6zM385 263h5v1h-5zM385 264h4v1h-4zM386 265h3v1h-3zM386 266h2v1h-2zM387 267h1v1h-1zM392 231h4v1h-4zM401 231h3v1h-3zM394 227h7v1h-7zM395 228h6v1h-6zM396 229h5v1h-5zM396 230h4v1h-4zM397 231h3v1h-3zM397 232h2v1h-2zM398 233h1v1h-1zM403 199h3v1h-3zM411 199h3v1h-3zM404 195h7v1h-7zM405 196h6v1h-6zM406 197h5v1h-5zM406 198h4v1h-4zM407 199h3v1h-3zM407 200h2v1h-2zM408 201h1v1h-1zM413 179h3v1h-3zM421 179h3v1h-3zM414 175h7v1h-7zM415 176h6v1h-6zM416 177h5v1h-5zM416 178h4v1h-4zM417 179h3v1h-3zM417 180h2v1h-2zM418 181h1v1h-1zM423 167h3v1h-3zM431 167h3v1h-3zM424 163h7v1h-7zM425 164h6v1h-6zM426 165h5v1h-5zM426 166h4v1h-4zM427 167h3v1h-3zM427 168h2v1h-2zM428 169h1v1h-1zM433 156h3v1h-3zM441 156h4v1h-4zM434 152h7v1h-7zM435 153h6v1h-6zM436 154h5v1h-5zM436 155h4v1h-4zM437 156h3v1h-3zM437 157h2v1h-2zM438 158h1v1h-1zM444 158h3v1h-3zM452 158h3v1h-3zM445 154h7v1h-7zM446 155h6v1h-6zM447 156h5v1h-5zM447 157h4v1h-4zM448 158h3v1h-3zM448 159h2v1h-2zM449 160h1v1h-1zM454 173h3v1h-3zM462 173h3v1h-3zM455 169h7v1h-7zM456 170h6v1h-6zM457 171h5v1h-5zM457 172h4v1h-4zM458 173h3v1h-3zM458 174h2v1h-2zM459 175h1v1h-1zM464 185h3v1h-3zM472 185h3v1h-3zM465 181h7v1h-7zM466 182h6v1h-6zM467 183h5v1h-5zM467 184h4v1h-4zM468 185h3v1h-3zM468 186h2v1h-2zM469 187h1v1h-1zM474 209h3v1h-3zM482 209h3v1h-3zM475 205h7v1h-7zM476 206h6v1h-6zM477 207h5v1h-5zM477 208h4v1h-4zM478 209h3v1h-3zM478 210h2v1h-2zM479 211h1v1h-1zM484 238h3v1h-3zM492 238h4v1h-4zM485 234h7v1h-7zM486 235h6v1h-6zM487 236h5v1h-5zM487 237h4v1h-4zM488 238h3v1h-3zM488 239h2v1h-2zM489 240h1v1h-1zM495 268h3v1h-3zM503 268h3v1h-3zM496 264h7v1h-7zM497 265h6v1h-6zM498 266h5v1h-5zM498 267h4v1h-4zM499 268h3v1h-3zM499 269h2v1h-2zM500 270h1v1h-1zM505 302h3v1h-3zM513 302h3v1h-3zM506 298h7v1h-7zM507 299h6v1h-6zM508 300h5v1h-5zM508 301h4v1h-4zM509 302h3v1h-3zM509 303h2v1h-2zM510 304h1v1h-1zM515 338h3v1h-3zM523 338h3v1h-3zM516 334h7v1h-7zM517 335h6v1h-6zM518 336h5v1h-5zM518 337h4v1h-4zM519 338h3v1h-3zM519 339h2v1h-2zM520 340h1v1h-1zM525 374h3v1h-3zM533 374h3v1h-3zM526 370h7v1h-7zM527 371h6v1h-6zM528 372h5v1h-5zM528 373h4v1h-4zM529 374h3v1h-3zM529 375h2v1h-2zM530 376h1v1h-1zM535 412h4v1h-4zM544 412h3v1h-3zM537 408h7v1h-7zM538 409h6v1h-6zM539 410h5v1h-5zM539 411h4v1h-4zM540 412h3v1h-3zM540 413h2v1h-2zM541 414h1v1h-1zM546 451h3v1h-3zM554 451h3v1h-3zM547 447h7v1h-7zM548 448h6v1h-6zM549 449h5v1h-5zM549 450h4v1h-4zM550 451h3v1h-3zM550 452h2v1h-2zM551 453h1v1h-1zM556 483h3v1h-3zM564 483h3v1h-3zM557 479h7v1h-7zM558 480h6v1h-6zM559 481h5v1h-5zM559 482h4v1h-4zM560 483h3v1h-3zM560 484h2v1h-2zM561 485h1v1h-1zM566 520h3v1h-3zM574 520h3v1h-3zM567 516h7v1h-7zM568 517h6v1h-6zM569 518h5v1h-5zM569 519h4v1h-4zM570 520h3v1h-3zM570 521h2v1h-2zM571 522h1v1h-1zM576 556h3v1h-3zM584 556h3v1h-3zM577 552h7v1h-7zM578 553h6v1h-6zM579 554h5v1h-5zM579 555h4v1h-4zM580 556h3v1h-3zM580 557h2v1h-2zM581 558h1v1h-1zM586 581h4v1h-4zM595 581h3v1h-3zM588 577h7v1h-7zM589 578h6v1h-6zM590 579h5v1h-5zM590 580h4v1h-4zM591 581h3v1h-3zM591 582h2v1h-2zM592 583h1v1h-1zM597 614h3v1h-3zM605 614h3v1h-3zM598 610h7v1h-7zM599 611h6v1h-6zM600 612h5v1h-5zM600 613h4v1h-4zM601 614h3v1h-3zM601 615h2v1h-2zM602 616h1v1h-1zM607 641h3v1h-3zM615 641h3v1h-3zM608 637h7v1h-7zM609 638h6v1h-6zM610 639h5v1h-5zM610 640h4v1h-4zM611 641h3v1h-3zM611 642h2v1h-2zM612 643h1v1h-1zM617 664h3v1h-3zM625 664h3v1h-3zM618 660h7v1h-7zM619 661h6v1h-6zM620 662h5v1h-5zM620 663h4v1h-4zM621 664h3v1h-3zM621 665h2v1h-2zM622 666h1v1h-1zM627 686h3v1h-3zM635 686h4v1h-4zM628 682h7v1h-7zM629 683h6v1h-6zM630 684h5v1h-5zM630 685h4v1h-4zM631 686h3v1h-3zM631 687h2v1h-2zM632 688h1v1h-1zM638 707h3v1h-3zM646 707h3v1h-3zM639 703h7v1h-7zM640 704h6v1h-6zM641 705h5v1h-5zM641 706h4v1h-4zM642 707h3v1h-3zM642 708h2v1h-2zM643 709h1v1h-1zM648 725h3v1h-3zM656 725h3v1h-3zM649 721h7v1h-7zM650 722h6v1h-6zM651 723h5v1h-5zM651 724h4v1h-4zM652 725h3v1h-3zM652 726h2v1h-2zM653 727h1v1h-1zM658 740h3v1h-3zM666 740h3v1h-3zM659 736h7v1h-7zM660 737h6v1h-6zM661 738h5v1h-5zM661 739h4v1h-4zM662 740h3v1h-3zM662 741h2v1h-2zM663 742h1v1h-1zM668 755h3v1h-3zM676 755h3v1h-3zM669 751h7v1h-7zM670 752h6v1h-6zM671 753h5v1h-5zM671 754h4v1h-4zM672 755h3v1h-3zM672 756h2v1h-2zM673 757h1v1h-1zM678 769h3v1h-3zM686 769h4v1h-4zM679 765h7v1h-7zM680 766h6v1h-6zM681 767h5v1h-5zM681 768h4v1h-4zM682 769h3v1h-3zM682 770h2v1h-2zM683 771h1v1h-1zM689 781h3v1h-3zM697 781h3v1h-3zM690 777h7v1h-7zM691 778h6v1h-6zM692 779h5v1h-5zM692 780h4v1h-4zM693 781h3v1h-3zM693 782h2v1h-2zM694 783h1v1h-1zM699 791h3v1h-3zM707 791h3v1h-3zM700 787h7v1h-7zM701 788h6v1h-6zM702 789h5v1h-5zM702 790h4v1h-4zM703 791h3v1h-3zM703 792h2v1h-2zM704 793h1v1h-1zM709 798h3v1h-3zM717 798h3v1h-3zM710 794h7v1h-7zM711 795h6v1h-6zM712 796h5v1h-5zM712 797h4v1h-4zM713 798h3v1h-3zM713 799h2v1h-2zM714 800h1v1h-1zM719 807h3v1h-3zM727 807h3v1h-3zM720 803h7v1h-7zM721 804h6v1h-6zM722 805h5v1h-5zM722 806h4v1h-4zM723 807h3v1h-3zM723 808h2v1h-2zM724 809h1v1h-1zM729 816h3v1h-3zM737 816h4v1h-4zM730 812h7v1h-7zM731 813h6v1h-6zM732 814h5v1h-5zM732 815h4v1h-4zM733 816h3v1h-3zM733 817h2v1h-2zM734 818h1v1h-1zM740 821h3v1h-3zM748 821h3v1h-3zM741 817h7v1h-7zM742 818h6v1h-6zM743 819h5v1h-5zM743 820h4v1h-4zM744 821h3v1h-3zM744 822h2v1h-2zM745 823h1v1h-1zM750 827h3v1h-3zM758 827h3v1h-3zM751 823h7v1h-7zM752 824h6v1h-6zM753 825h5v1h-5zM753 826h4v1h-4zM754 827h3v1h-3zM754 828h2v1h-2zM755 829h1v1h-1zM760 833h3v1h-3zM768 833h3v1h-3zM761 829h7v1h-7zM762 830h6v1h-6zM763 831h5v1h-5zM763 832h4v1h-4zM764 833h3v1h-3zM764 834h2v1h-2zM765 835h1v1h-1zM770 838h3v1h-3zM778 838h3v1h-3zM771 834h7v1h-7zM772 835h6v1h-6zM773 836h5v1h-5zM773 837h4v1h-4zM774 838h3v1h-3zM774 839h2v1h-2zM775 840h1v1h-1zM780 840h4v1h-4zM789 840h3v1h-3zM782 836h7v1h-7zM783 837h6v1h-6zM784 838h5v1h-5zM784 839h4v1h-4zM785 840h3v1h-3zM785 841h2v1h-2zM786 842h1v1h-1zM791 844h3v1h-3zM799 844h3v1h-3zM792 840h7v1h-7zM793 841h6v1h-6zM794 842h5v1h-5zM794 843h4v1h-4zM795 844h3v1h-3zM795 845h2v1h-2zM796 846h1v1h-1zM801 847h3v1h-3zM809 847h3v1h-3zM802 843h7v1h-7zM803 844h6v1h-6zM804 845h5v1h-5zM804 846h4v1h-4zM805 847h3v1h-3zM805 848h2v1h-2zM806 849h1v1h-1zM811 850h3v1h-3zM819 850h3v1h-3zM812 846h7v1h-7zM813 847h6v1h-6zM814 848h5v1h-5zM814 849h4v1h-4zM815 850h3v1h-3zM815 851h2v1h-2zM816 852h1v1h-1zM821 853h3v1h-3zM829 853h3v1h-3zM822 849h7v1h-7zM823 850h6v1h-6zM824 851h5v1h-5zM824 852h4v1h-4zM825 853h3v1h-3zM825 854h2v1h-2zM826 855h1v1h-1zM831 855h4v1h-4zM840 855h3v1h-3zM833 851h7v1h-7zM834 852h6v1h-6zM835 853h5v1h-5zM835 854h4v1h-4zM836 855h3v1h-3zM836 856h2v1h-2zM837 857h1v1h-1zM842 857h3v1h-3zM850 857h3v1h-3zM843 853h7v1h-7zM844 854h6v1h-6zM845 855h5v1h-5zM845 856h4v1h-4zM846 857h3v1h-3zM846 858h2v1h-2zM847 859h1v1h-1zM852 859h3v1h-3zM860 859h3v1h-3zM853 855h7v1h-7zM854 856h6v1h-6zM855 857h5v1h-5zM855 858h4v1h-4zM856 859h3v1h-3zM856 860h2v1h-2zM857 861h1v1h-1zM862 861h3v1h-3zM870 861h3v1h-3zM863 857h7v1h-7zM864 858h6v1h-6zM865 859h5v1h-5zM865 860h4v1h-4zM866 861h3v1h-3zM866 862h2v1h-2zM867 863h1v1h-1zM872 864h3v1h-3zM880 864h4v1h-4zM873 860h7v1h-7zM874 861h6v1h-6zM875 862h5v1h-5zM875 863h4v1h-4zM876 864h3v1h-3zM876 865h2v1h-2zM877 866h1v1h-1zM883 865h3v1h-3zM891 865h3v1h-3zM884 861h7v1h-7zM885 862h6v1h-6zM886 863h5v1h-5zM886 864h4v1h-4zM887 865h3v1h-3zM887 866h2v1h-2zM888 867h1v1h-1zM893 867h3v1h-3zM901 867h3v1h-3zM894 863h7v1h-7zM895 864h6v1h-6zM896 865h5v1h-5zM896 866h4v1h-4zM897 867h3v1h-3zM897 868h2v1h-2zM898 869h1v1h-1zM903 868h3v1h-3zM911 868h3v1h-3zM904 864h7v1h-7zM905 865h6v1h-6zM906 866h5v1h-5zM906 867h4v1h-4zM907 868h3v1h-3zM907 869h2v1h-2zM908 870h1v1h-1zM913 869h3v1h-3zM921 869h3v1h-3zM914 865h7v1h-7zM915 866h6v1h-6zM916 867h5v1h-5zM916 868h4v1h-4zM917 869h3v1h-3zM917 870h2v1h-2zM918 871h1v1h-1zM923 870h3v1h-3zM931 870h4v1h-4zM924 866h7v1h-7zM925 867h6v1h-6zM926 868h5v1h-5zM926 869h4v1h-4zM927 870h3v1h-3zM927 871h2v1h-2zM928 872h1v1h-1zM934 871h3v1h-3zM942 871h3v1h-3zM935 867h7v1h-7zM936 868h6v1h-6zM937 869h5v1h-5zM937 870h4v1h-4zM938 871h3v1h-3zM938 872h2v1h-2zM939 873h1v1h-1zM944 872h3v1h-3zM952 872h3v1h-3zM945 868h7v1h-7zM946 869h6v1h-6zM947 870h5v1h-5zM947 871h4v1h-4zM948 872h3v1h-3zM948 873h2v1h-2zM949 874h1v1h-1zM954 873h3v1h-3zM962 873h3v1h-3zM955 869h7v1h-7zM956 870h6v1h-6zM957 871h5v1h-5zM957 872h4v1h-4zM958 873h3v1h-3zM958 874h2v1h-2zM959 875h1v1h-1zM964 873h3v1h-3zM972 873h3v1h-3zM965 869h7v1h-7zM966 870h6v1h-6zM967 871h5v1h-5zM967 872h4v1h-4zM968 873h3v1h-3zM968 874h2v1h-2zM969 875h1v1h-1zM974 874h3v1h-3zM982 874h4v1h-4zM975 870h7v1h-7zM976 871h6v1h-6zM977 872h5v1h-5zM977 873h4v1h-4zM978 874h3v1h-3zM978 875h2v1h-2zM979 876h1v1h-1zM985 876h3v1h-3zM993 876h3v1h-3zM986 872h7v1h-7zM987 873h6v1h-6zM988 874h5v1h-5zM988 875h4v1h-4zM989 876h3v1h-3zM989 877h2v1h-2zM990 878h1v1h-1zM995 876h3v1h-3zM1003 876h3v1h-3zM996 872h7v1h-7zM997 873h6v1h-6zM998 874h5v1h-5zM998 875h4v1h-4zM999 876h3v1h-3zM999 877h2v1h-2zM1000 878h1v1h-1zM1005 877h3v1h-3zM1013 877h3v1h-3zM1006 873h7v1h-7zM1007 874h6v1h-6zM1008 875h5v1h-5zM1008 876h4v1h-4zM1009 877h3v1h-3zM1009 878h2v1h-2zM1010 879h1v1h-1zM1015 877h3v1h-3zM1023 877h3v1h-3zM1016 873h7v1h-7zM1017 874h6v1h-6zM1018 875h5v1h-5zM1018 876h4v1h-4zM1019 877h3v1h-3zM1019 878h2v1h-2zM1020 879h1v1h-1zM1025 878h4v1h-4zM1034 878h3v1h-3zM1027 874h7v1h-7zM1028 875h6v1h-6zM1029 876h5v1h-5zM1029 877h4v1h-4zM1030 878h3v1h-3zM1030 879h2v1h-2zM1031 880h1v1h-1zM1036 879h3v1h-3zM1044 879h3v1h-3zM1037 875h7v1h-7zM1038 876h6v1h-6zM1039 877h5v1h-5zM1039 878h4v1h-4zM1040 879h3v1h-3zM1040 880h2v1h-2zM1041 881h1v1h-1zM1046 878h3v1h-3zM1054 878h3v1h-3zM1047 874h7v1h-7zM1048 875h6v1h-6zM1049 876h5v1h-5zM1049 877h4v1h-4zM1050 878h3v1h-3zM1050 879h2v1h-2zM1051 880h1v1h-1zM1056 880h3v1h-3zM1064 880h3v1h-3zM1057 876h7v1h-7zM1058 877h6v1h-6zM1059 878h5v1h-5zM1059 879h4v1h-4zM1060 880h3v1h-3zM1060 881h2v1h-2zM1061 882h1v1h-1zM1066 880h3v1h-3zM1074 880h4v1h-4zM1067 876h7v1h-7zM1068 877h6v1h-6zM1069 878h5v1h-5zM1069 879h4v1h-4zM1070 880h3v1h-3zM1070 881h2v1h-2zM1071 882h1v1h-1zM1077 881h3v1h-3zM1085 881h3v1h-3zM1078 877h7v1h-7zM1079 878h6v1h-6zM1080 879h5v1h-5zM1080 880h4v1h-4zM1081 881h3v1h-3zM1081 882h2v1h-2zM1082 883h1v1h-1zM1087 881h3v1h-3zM1095 881h3v1h-3zM1088 877h7v1h-7zM1089 878h6v1h-6zM1090 879h5v1h-5zM1090 880h4v1h-4zM1091 881h3v1h-3zM1091 882h2v1h-2zM1092 883h1v1h-1zM1097 881h3v1h-3zM1105 881h3v1h-3zM1098 877h7v1h-7zM1099 878h6v1h-6zM1100 879h5v1h-5zM1100 880h4v1h-4zM1101 881h3v1h-3zM1101 882h2v1h-2zM1102 883h1v1h-1zM1107 881h3v1h-3zM1115 881h3v1h-3zM1108 877h7v1h-7zM1109 878h6v1h-6zM1110 879h5v1h-5zM1110 880h4v1h-4zM1111 881h3v1h-3zM1111 882h2v1h-2zM1112 883h1v1h-1zM1117 882h3v1h-3zM1125 882h4v1h-4zM1118 878h7v1h-7zM1119 879h6v1h-6zM1120 880h5v1h-5zM1120 881h4v1h-4zM1121 882h3v1h-3zM1121 883h2v1h-2zM1122 884h1v1h-1zM1128 884h3v1h-3zM1136 884h3v1h-3zM1129 880h7v1h-7zM1130 881h6v1h-6zM1131 882h5v1h-5zM1131 883h4v1h-4zM1132 884h3v1h-3zM1132 885h2v1h-2zM1133 886h1v1h-1z"/>
<path id="muon" fill="#0000ff" shape-rendering="crispEdges" d="M147 896h4v1h-4zM156 896h3v1h-3zM158 896h3v1h-3zM166 896h3v1h-3zM168 895h3v1h-3zM176 895h3v1h-3zM178 894h3v1h-3zM186 894h3v1h-3zM188 891h3v1h-3zM196 891h3v1h-3zM198 890h4v1h-4zM207 890h3v1h-3zM209 887h3v1h-3zM217 887h3v1h-3zM219 882h3v1h-3zM227 882h3v1h-3zM229 875h3v1h-3zM237 875h3v1h-3zM239 862h3v1h-3zM247 862h4v1h-4zM250 843h3v1h-3zM258 843h3v1h-3zM255 840h1v1h-1zM255 846h1v1h-1zM260 829h3v1h-3zM268 829h3v1h-3zM265 826h1v1h-1zM265 832h1v1h-1zM270 805h3v1h-3zM278 805h3v1h-3zM275 802h1v1h-1zM275 808h1v1h-1zM280 782h3v1h-3zM288 782h3v1h-3zM285 778h1v2h-1zM285 785h1v2h-1zM290 742h4v1h-4zM299 742h3v1h-3zM296 737h1v3h-1zM296 745h1v3h-1zM301 705h3v1h-3zM309 705h3v1h-3zM306 700h1v3h-1zM306 708h1v3h-1zM311 671h3v1h-3zM319 671h3v1h-3zM316 665h1v4h-1zM316 674h1v4h-1zM321 612h3v1h-3zM329 612h3v1h-3zM326 606h1v4h-1zM326 615h1v4h-1zM331 574h3v1h-3zM339 574h3v1h-3zM336 567h1v5h-1zM336 577h1v5h-1zM341 504h4v1h-4zM350 504h3v1h-3zM347 497h1v5h-1zM347 507h1v5h-1zM352 452h3v1h-3zM360 452h3v1h-3zM357 444h1v6h-1zM357 455h1v6h-1zM362 393h3v1h-3zM370 393h3v1h-3zM367 385h1v6h-1zM367 396h1v6h-1zM372 372h3v1h-3zM380 372h3v1h-3zM377 363h1v7h-1zM377 375h1v7h-1zM382 316h3v1h-3zM390 316h3v1h-3zM387 307h1v7h-1zM387 319h1v7h-1zM392 269h4v1h-4zM401 269h3v1h-3zM398 260h1v7h-1zM398 272h1v7h-1zM403 245h3v1h-3zM411 245h3v1h-3zM408 235h1v8h-1zM408 248h1v8h-1zM413 234h3v1h-3zM421 234h3v1h-3zM418 224h1v8h-1zM418 237h1v8h-1zM423 204h3v1h-3zM431 204h3v1h-3zM428 194h1v8h-1zM428 207h1v8h-1zM433 219h3v1h-3zM441 219h4v1h-4zM438 209h1v8h-1zM438 222h1v8h-1zM444 188h3v1h-3zM452 188h3v1h-3zM449 178h1v8h-1zM449 191h1v8h-1zM454 205h3v1h-3zM462 205h3v1h-3zM459 195h1v8h-1zM459 208h1v8h-1zM464 220h3v1h-3zM472 220h3v1h-3zM469 210h1v8h-1zM469 223h1v8h-1zM474 223h3v1h-3zM482 223h3v1h-3zM479 213h1v8h-1zM479 226h1v8h-1zM484 260h3v1h-3zM492 260h4v1h-4zM489 250h1v8h-1zM489 263h1v8h-1zM495 307h3v1h-3zM503 307h3v1h-3zM500 298h1v7h-1zM500 310h1v7h-1zM505 309h3v1h-3zM513 309h3v1h-3zM510 300h1v7h-1zM510 312h1v7h-1zM515 347h3v1h-3zM523 347h3v1h-3zM520 338h1v7h-1zM520 350h1v7h-1zM525 395h3v1h-3zM533 395h3v1h-3zM530 387h1v6h-1zM530 398h1v6h-1zM535 417h4v1h-4zM544 417h3v1h-3zM541 409h1v6h-1zM541 420h1v6h-1zM546 460h3v1h-3zM554 460h3v1h-3zM551 452h1v6h-1zM551 463h1v6h-1zM556 492h3v1h-3zM564 492h3v1h-3zM561 484h1v6h-1zM561 495h1v6h-1zM566 526h3v1h-3zM574 526h3v1h-3zM571 519h1v5h-1zM571 529h1v5h-1zM576 566h3v1h-3zM584 566h3v1h-3zM581 559h1v5h-1zM581 569h1v5h-1zM586 585h4v1h-4zM595 585h3v1h-3zM592 578h1v5h-1zM592 588h1v5h-1zM597 594h3v1h-3zM605 594h3v1h-3zM602 588h1v4h-1zM602 597h1v4h-1zM607 637h3v1h-3zM615 637h3v1h-3zM612 631h1v4h-1zM612 640h1v4h-1zM617 655h3v1h-3zM625 655h3v1h-3zM622 649h1v4h-1zM622 658h1v4h-1zM627 676h3v1h-3zM635 676h4v1h-4zM632 670h1v4h-1zM632 679h1v4h-1zM638 696h3v1h-3zM646 696h3v1h-3zM643 691h1v3h-1zM643 699h1v3h-1zM648 699h3v1h-3zM656 699h3v1h-3zM653 694h1v3h-1zM653 702h1v3h-1zM658 729h3v1h-3zM666 729h3v1h-3zM663 724h1v3h-1zM663 732h1v3h-1zM668 738h3v1h-3zM676 738h3v1h-3zM673 733h1v3h-1zM673 741h1v3h-1zM678 757h3v1h-3zM686 757h4v1h-4zM683 753h1v2h-1zM683 760h1v2h-1zM689 765h3v1h-3zM697 765h3v1h-3zM694 761h1v2h-1zM694 768h1v2h-1zM699 768h3v1h-3zM707 768h3v1h-3zM704 764h1v2h-1zM704 771h1v2h-1zM709 780h3v1h-3zM717 780h3v1h-3zM714 776h1v2h-1zM714 783h1v2h-1zM719 784h3v1h-3zM727 784h3v1h-3zM724 780h1v2h-1zM724 787h1v2h-1zM729 789h3v1h-3zM737 789h4v1h-4zM734 785h1v2h-1zM734 792h1v2h-1zM740 798h3v1h-3zM748 798h3v1h-3zM745 794h1v2h-1zM745 801h1v2h-1zM750 804h3v1h-3zM758 804h3v1h-3zM755 801h1v1h-1zM755 807h1v1h-1zM760 803h3v1h-3zM768 803h3v1h-3zM765 799h1v2h-1zM765 806h1v2h-1zM770 812h3v1h-3zM778 812h3v1h-3zM775 809h1v1h-1zM775 815h1v1h-1zM780 820h4v1h-4zM789 820h3v1h-3zM786 817h1v1h-1zM786 823h1v1h-1zM791 821h3v1h-3zM799 821h3v1h-3zM796 818h1v1h-1zM796 824h1v1h-1zM801 819h3v1h-3zM809 819h3v1h-3zM806 816h1v1h-1zM806 822h1v1h-1zM811 826h3v1h-3zM819 826h3v1h-3zM816 823h1v1h-1zM816 829h1v1h-1zM821 832h3v1h-3zM829 832h3v1h-3zM826 829h1v1h-1zM826 835h1v1h-1zM831 830h4v1h-4zM840 830h3v1h-3zM837 827h1v1h-1zM837 833h1v1h-1zM842 835h3v1h-3zM850 835h3v1h-3zM847 832h1v1h-1zM847 838h1v1h-1zM852 834h3v1h-3zM860 834h3v1h-3zM857 831h1v1h-1zM857 837h1v1h-1zM862 838h3v1h-3zM870 838h3v1h-3zM867 835h1v1h-1zM867 841h1v1h-1zM872 842h3v1h-3zM880 842h4v1h-4zM877 839h1v1h-1zM877 845h1v1h-1zM883 841h3v1h-3zM891 841h3v1h-3zM888 838h1v1h-1zM888 844h1v1h-1zM893 842h3v1h-3zM901 842h3v1h-3zM898 839h1v1h-1zM898 845h1v1h-1zM903 848h3v1h-3zM911 848h3v1h-3zM913 850h3v1h-3zM921 850h3v1h-3zM923 850h3v1h-3zM931 850h4v1h-4zM934 851h3v1h-3zM942 851h3v1h-3zM944 851h3v1h-3zM952 851h3v1h-3zM954 854h3v1h-3zM962 854h3v1h-3zM964 851h3v1h-3zM972 851h3v1h-3zM974 852h3v1h-3zM982 852h4v1h-4zM985 858h3v1h-3zM993 858h3v1h-3zM995 856h3v1h-3zM1003 856h3v1h-3zM1005 862h3v1h-3zM1013 862h3v1h-3zM1015 856h3v1h-3zM1023 856h3v1h-3zM1025 862h4v1h-4zM1034 862h3v1h-3zM1036 861h3v1h-3zM1044 861h3v1h-3zM1046 860h3v1h-3zM1054 860h3v1h-3zM1056 861h3v1h-3zM1064 861h3v1h-3zM1066 865h3v1h-3zM1074 865h4v1h-4zM1077 864h3v1h-3zM1085 864h3v1h-3zM1087 863h3v1h-3zM1095 863h3v1h-3zM1097 865h3v1h-3zM1105 865h3v1h-3zM1107 866h3v1h-3zM1115 866h3v1h-3zM1117 862h3v1h-3zM1125 862h4v1h-4zM1128 869h3v1h-3zM1136 869h3v1h-3z"/>
<path id="muon-m" fill="#0000ff" d="M149.8 895.2L152.2 892.8L154.8 892.8L157.2 895.2L157.2 897.8L154.8 900.2L152.2 900.2L149.8 897.8zM159.8 895.2L162.2 892.8L164.8 892.8L167.2 895.2L167.2 897.8L164.8 900.2L162.2 900.2L159.8 897.8zM169.8 894.2L172.2 891.8L174.8 891.8L177.2 894.2L177.2 896.8L174.8 899.2L172.2 899.2L169.8 896.8zM179.8 893.2L182.2 890.8L184.8 890.8L187.2 893.2L187.2 895.8L184.8 898.2L182.2 898.2L179.8 895.8zM189.8 890.2L192.2 887.8L194.8 887.8L197.2 890.2L197.2 892.8L194.8 895.2L192.2 895.2L189.8 892.8zM200.8 889.2L203.2 886.8L205.8 886.8L208.2 889.2L208.2 891.8L205.8 894.2L203.2 894.2L200.8 891.8zM210.8 886.2L213.2 883.8L215.8 883.8L218.2 886.2L218.2 888.8L215.8 891.2L213.2 891.2L210.8 888.8zM220.8 881.2L223.2 878.8L225.8 878.8L228.2 881.2L228.2 883.8L225.8 886.2L223.2 886.2L220.8 883.8zM230.8 874.2L233.2 871.8L235.8 871.8L238.2 874.2L238.2 876.8L235.8 879.2L233.2 879.2L230.8 876.8zM240.8 861.2L243.2 858.8L245.8 858.8L248.2 861.2L248.2 863.8L245.8 866.2L243.2 866.2L240.8 863.8zM251.8 842.2L254.2 839.8L256.8 839.8L259.2 842.2L259.2 844.8L256.8 847.2L254.2 847.2L251.8 844.8zM261.8 828.2L264.2 825.8L266.8 825.8L269.2 828.2L269.2 830.8L266.8 833.2L264.2 833.2L261.8 830.8zM271.8 804.2L274.2 801.8L276.8 801.8L279.2 804.2L279.2 806.8L276.8 809.2L274.2 809.2L271.8 806.8zM281.8 781.2L284.2 778.8L286.8 778.8L289.2 781.2L289.2 783.8L286.8 786.2L284.2 786.2L281.8 783.8zM292.8 741.2L295.2 738.8L297.8 738.8L300.2 741.2L300.2 743.8L297.8 746.2L295.2 746.2L292.8 743.8zM302.8 704.2L305.2 701.8L307.8 701.8L310.2 704.2L310.2 706.8L307.8 709.2L305.2 709.2L302.8 706.8zM312.8 670.2L315.2 667.8L317.8 667.8L320.2 670.2L320.2 672.8L317.8 675.2L315.2 675.2L312.8 672.8zM322.8 611.2L325.2 608.8L327.8 608.8L330.2 611.2L330.2 613.8L327.8 616.2L325.2 616.2L322.8 613.8zM332.8 573.2L335.2 570.8L337.8 570.8L340.2 573.2L340.2 575.8L337.8 578.2L335.2 578.2L332.8 575.8zM343.8 503.2L346.2 500.8L348.8 500.8L351.2 503.2L351.2 505.8L348.8 508.2L346.2 508.2L343.8 505.8zM353.8 451.2L356.2 448.8L358.8 448.8L361.2 451.2L361.2 453.8L358.8 456.2L356.2 456.2L353.8 453.8zM363.8 392.2L366.2 389.8L368.8 389.8L371.2 392.2L371.2 394.8L368.8 397.2L366.2 397.2L363.8 394.8zM373.8 371.2L376.2 368.8L378.8 368.8L381.2 371.2L381.2 373.8L378.8 376.2L376.2 376.2L373.8 373.8zM383.8 315.2L386.2 312.8L388.8 312.8L391.2 315.2L391.2 317.8L388.8 320.2L386.2 320.2L383.8 317.8zM394.8 268.2L397.2 265.8L399.8 265.8L402.2 268.2L402.2 270.8L399.8 273.2L397.2 273.2L394.8 270.8zM404.8 244.2L407.2 241.8L409.8 241.8L412.2 244.2L412.2 246.8L409.8 249.2L407.2 249.2L404.8 246.8zM414.8 233.2L417.2 230.8L419.8 230.8L422.2 233.2L422.2 235.8L419.8 238.2L417.2 238.2L414.8 235.8zM424.8 203.2L427.2 200.8L429.8 200.8L432.2 203.2L432.2 205.8L429.8 208.2L427.2 208.2L424.8 205.8zM434.8 218.2L437.2 215.8L439.8 215.8L442.2 218.2L442.2 220.8L439.8 223.2L437.2 223.2L434.8 220.8zM445.8 187.2L448.2 184.8L450.8 184.8L453.2 187.2L453.2 189.8L450.8 192.2L448.2 192.2L445.8 189.8zM455.8 204.2L458.2 201.8L460.8 201.8L463.2 204.2L463.2 206.8L460.8 209.2L458.2 209.2L455.8 206.8zM465.8 219.2L468.2 216.8L470.8 216.8L473.2 219.2L473.2 221.8L470.8 224.2L468.2 224.2L465.8 221.8zM475.8 222.2L478.2 219.8L480.8 219.8L483.2 222.2L483.2 224.8L480.8 227.2L478.2 227.2L475.8 224.8zM485.8 259.2L488.2 256.8L490.8 256.8L493.2 259.2L493.2 261.8L490.8 264.2L488.2 264.2L485.8 261.8zM496.8 306.2L499.2 303.8L501.8 303.8L504.2 306.2L504.2 308.8L501.8 311.2L499.2 311.2L496.8 308.8zM506.8 308.2L509.2 305.8L511.8 305.8L514.2 308.2L514.2 310.8L511.8 313.2L509.2 313.2L506.8 310.8zM516.8 346.2L519.2 343.8L521.8 343.8L524.2 346.2L524.2 348.8L521.8 351.2L519.2 351.2L516.8 348.8zM526.8 394.2L529.2 391.8L531.8 391.8L534.2 394.2L534.2 396.8L531.8 399.2L529.2 399.2L526.8 396.8zM537.8 416.2L540.2 413.8L542.8 413.8L545.2 416.2L545.2 418.8L542.8 421.2L540.2 421.2L537.8 418.8zM547.8 459.2L550.2 456.8L552.8 456.8L555.2 459.2L555.2 461.8L552.8 464.2L550.2 464.2L547.8 461.8zM557.8 491.2L560.2 488.8L562.8 488.8L565.2 491.2L565.2 493.8L562.8 496.2L560.2 496.2L557.8 493.8zM567.8 525.2L570.2 522.8L572.8 522.8L575.2 525.2L575.2 527.8L572.8 530.2L570.2 530.2L567.8 527.8zM577.8 565.2L580.2 562.8L582.8 562.8L585.2 565.2L585.2 567.8L582.8 570.2L580.2 570.2L577.8 567.8zM588.8 584.2L591.2 581.8L593.8 581.8L596.2 584.2L596.2 586.8L593.8 589.2L591.2 589.2L588.8 586.8zM598.8 593.2L601.2 590.8L603.8 590.8L606.2 593.2L606.2 595.8L603.8 598.2L601.2 598.2L598.8 595.8zM608.8 636.2L611.2 633.8L613.8 633.8L616.2 636.2L616.2 638.8L613.8 641.2L611.2 641.2L608.8 638.8zM618.8 654.2L621.2 651.8L623.8 651.8L626.2 654.2L626.2 656.8L623.8 659.2L621.2 659.2L618.8 656.8zM628.8 675.2L631.2 672.8L633.8 672.8L636.2 675.2L636.2 677.8L633.8 680.2L631.2 680.2L628.8 677.8zM639.8 695.2L642.2 692.8L644.8 692.8L647.2 695.2L647.2 697.8L644.8 700.2L642.2 700.2L639.8 697.8zM649.8 698.2L652.2 695.8L654.8 695.8L657.2 698.2L657.2 700.8L654.8 703.2L652.2 703.2L649.8 700.8zM659.8 728.2L662.2 725.8L664.8 725.8L667.2 728.2L667.2 730.8L664.8 733.2L662.2 733.2L659.8 730.8zM669.8 737.2L672.2 734.8L674.8 734.8L677.2 737.2L677.2 739.8L674.8 742.2L672.2 742.2L669.8 739.8zM679.8 756.2L682.2 753.8L684.8 753.8L687.2 756.2L687.2 758.8L684.8 761.2L682.2 761.2L679.8 758.8zM690.8 764.2L693.2 761.8L695.8 761.8L698.2 764.2L698.2 766.8L695.8 769.2L693.2 769.2L690.8 766.8zM700.8 767.2L703.2 764.8L705.8 764.8L708.2 767.2L708.2 769.8L705.8 772.2L703.2 772.2L700.8 769.8zM710.8 779.2L713.2 776.8L715.8 776.8L718.2 779.2L718.2 781.8L715.8 784.2L713.2 784.2L710.8 781.8zM720.8 783.2L723.2 780.8L725.8 780.8L728.2 783.2L728.2 785.8L725.8 788.2L723.2 788.2L720.8 785.8zM730.8 788.2L733.2 785.8L735.8 785.8L738.2 788.2L738.2 790.8L735.8 793.2L733.2 793.2L730.8 790.8zM741.8 797.2L744.2 794.8L746.8 794.8L749.2 797.2L749.2 799.8L746.8 802.2L744.2 802.2L741.8 799.8zM751.8 803.2L754.2 800.8L756.8 800.8L759.2 803.2L759.2 805.8L756.8 808.2L754.2 808.2L751.8 805.8zM761.8 802.2L764.2 799.8L766.8 799.8L769.2 802.2L769.2 804.8L766.8 807.2L764.2 807.2L761.8 804.8zM771.8 811.2L774.2 808.8L776.8 808.8L779.2 811.2L779.2 813.8L776.8 816.2L774.2 816.2L771.8 813.8zM782.8 819.2L785.2 816.8L787.8 816.8L790.2 819.2L790.2 821.8L787.8 824.2L785.2 824.2L782.8 821.8zM792.8 820.2L795.2 817.8L797.8 817.8L800.2 820.2L800.2 822.8L797.8 825.2L795.2 825.2L792.8 822.8zM802.8 818.2L805.2 815.8L807.8 815.8L810.2 818.2L810.2 820.8L807.8 823.2L805.2 823.2L802.8 820.8zM812.8 825.2L815.2 822.8L817.8 822.8L820.2 825.2L820.2 827.8L817.8 830.2L815.2 830.2L812.8 827.8zM822.8 831.2L825.2 828.8L827.8 828.8L830.2 831.2L830.2 833.8L827.8 836.2L825.2 836.2L822.8 833.8zM833.8 829.2L836.2 826.8L838.8 826.8L841.2 829.2L841.2 831.8L838.8 834.2L836.2 834.2L833.8 831.8zM843.8 834.2L846.2 831.8L848.8 831.8L851.2 834.2L851.2 836.8L848.8 839.2L846.2 839.2L843.8 836.8zM853.8 833.2L856.2 830.8L858.8 830.8L861.2 833.2L861.2 835.8L858.8 838.2L856.2 838.2L853.8 835.8zM863.8 837.2L866.2 834.8L868.8 834.8L871.2 837.2L871.2 839.8L868.8 842.2L866.2 842.2L863.8 839.8zM873.8 841.2L876.2 838.8L878.8 838.8L881.2 841.2L881.2 843.8L878.8 846.2L876.2 846.2L873.8 843.8zM884.8 840.2L887.2 837.8L889.8 837.8L892.2 840.2L892.2 842.8L889.8 845.2L887.2 845.2L884.8 842.8zM894.8 841.2L897.2 838.8L899.8 838.8L902.2 841.2L902.2 843.8L899.8 846.2L897.2 846.2L894.8 843.8zM904.8 847.2L907.2 844.8L909.8 844.8L912.2 847.2L912.2 849.8L909.8 852.2L907.2 852.2L904.8 849.8zM914.8 849.2L917.2 846.8L919.8 846.8L922.2 849.2L922.2 851.8L919.8 854.2L917.2 854.2L914.8 851.8zM924.8 849.2L927.2 846.8L929.8 846.8L932.2 849.2L932.2 851.8L929.8 854.2L927.2 854.2L924.8 851.8zM935.8 850.2L938.2 847.8L940.8 847.8L943.2 850.2L943.2 852.8L940.8 855.2L938.2 855.2L935.8 852.8zM945.8 850.2L948.2 847.8L950.8 847.8L953.2 850.2L953.2 852.8L950.8 855.2L948.2 855.2L945.8 852.8zM955.8 853.2L958.2 850.8L960.8 850.8L963.2 853.2L963.2 855.8L960.8 858.2L958.2 858.2L955.8 855.8zM965.8 850.2L968.2 847.8L970.8 847.8L973.2 850.2L973.2 852.8L970.8 855.2L968.2 855.2L965.8 852.8zM975.8 851.2L978.2 848.8L980.8 848.8L983.2 851.2L983.2 853.8L980.8 856.2L978.2 856.2L975.8 853.8zM986.8 857.2L989.2 854.8L991.8 854.8L994.2 857.2L994.2 859.8L991.8 862.2L989.2 862.2L986.8 859.8zM996.8 855.2L999.2 852.8L1001.8 852.8L1004.2 855.2L1004.2 857.8L1001.8 860.2L999.2 860.2L996.8 857.8zM1006.8 861.2L1009.2 858.8L1011.8 858.8L1014.2 861.2L1014.2 863.8L1011.8 866.2L1009.2 866.2L1006.8 863.8zM1016.8 855.2L1019.2 852.8L1021.8 852.8L1024.2 855.2L1024.2 857.8L1021.8 860.2L1019.2 860.2L1016.8 857.8zM1027.8 861.2L1030.2 858.8L1032.8 858.8L1035.2 861.2L1035.2 863.8L1032.8 866.2L1030.2 866.2L1027.8 863.8zM1037.8 860.2L1040.2 857.8L1042.8 857.8L1045.2 860.2L1045.2 862.8L1042.8 865.2L1040.2 865.2L1037.8 862.8zM1047.8 859.2L1050.2 856.8L1052.8 856.8L1055.2 859.2L1055.2 861.8L1052.8 864.2L1050.2 864.2L1047.8 861.8zM1057.8 860.2L1060.2 857.8L1062.8 857.8L1065.2 860.2L1065.2 862.8L1062.8 865.2L1060.2 865.2L1057.8 862.8zM1067.8 864.2L1070.2 861.8L1072.8 861.8L1075.2 864.2L1075.2 866.8L1072.8 869.2L1070.2 869.2L1067.8 866.8zM1078.8 863.2L1081.2 860.8L1083.8 860.8L1086.2 863.2L1086.2 865.8L1083.8 868.2L1081.2 868.2L1078.8 865.8zM1088.8 862.2L1091.2 859.8L1093.8 859.8L1096.2 862.2L1096.2 864.8L1093.8 867.2L1091.2 867.2L1088.8 864.8zM1098.8 864.2L1101.2 861.8L1103.8 861.8L1106.2 864.2L1106.2 866.8L1103.8 869.2L1101.2 869.2L1098.8 866.8zM1108.8 865.2L1111.2 862.8L1113.8 862.8L1116.2 865.2L1116.2 867.8L1113.8 870.2L1111.2 870.2L1108.8 867.8zM1118.8 861.2L1121.2 858.8L1123.8 858.8L1126.2 861.2L1126.2 863.8L1123.8 866.2L1121.2 866.2L1118.8 863.8zM1129.8 868.2L1132.2 865.8L1134.8 865.8L1137.2 868.2L1137.2 870.8L1134.8 873.2L1132.2 873.2L1129.8 870.8z"/>
<path id="electron" fill="#ff0000" shape-rendering="crispEdges" d="M147 895h4v1h-4zM156 895h3v1h-3zM152 893h2v1h-2zM152 894h3v1h-3zM151 895h4v1h-4zM150 896h6v2h-6zM158 895h3v1h-3zM166 895h3v1h-3zM162 893h2v1h-2zM162 894h3v1h-3zM161 895h4v1h-4zM160 896h6v2h-6zM168 894h3v1h-3zM176 894h3v1h-3zM172 892h2v1h-2zM172 893h3v1h-3zM171 894h4v1h-4zM170 895h6v2h-6zM178 894h3v1h-3zM186 894h3v1h-3zM182 892h2v1h-2zM182 893h3v1h-3zM181 894h4v1h-4zM180 895h6v2h-6zM188 893h3v1h-3zM196 893h3v1h-3zM192 891h2v1h-2zM192 892h3v1h-3zM191 893h4v1h-4zM190 894h6v2h-6zM198 889h4v1h-4zM207 889h3v1h-3zM203 887h2v1h-2zM203 888h3v1h-3zM202 889h4v1h-4zM201 890h6v2h-6zM209 883h3v1h-3zM217 883h3v1h-3zM214 880h1v1h-1zM214 886h1v1h-1zM213 881h2v1h-2zM213 882h3v1h-3zM212 883h4v1h-4zM211 884h6v2h-6zM219 877h3v1h-3zM227 877h3v1h-3zM224 874h1v1h-1zM224 880h1v1h-1zM223 875h2v1h-2zM223 876h3v1h-3zM222 877h4v1h-4zM221 878h6v2h-6zM229 869h3v1h-3zM237 869h3v1h-3zM234 865h1v2h-1zM234 872h1v2h-1zM233 867h2v1h-2zM233 868h3v1h-3zM232 869h4v1h-4zM231 870h6v2h-6zM239 857h3v1h-3zM247 857h4v1h-4zM244 852h1v3h-1zM244 860h1v3h-1zM243 855h2v1h-2zM243 856h3v1h-3zM242 857h4v1h-4zM241 858h6v2h-6zM250 842h3v1h-3zM258 842h3v1h-3zM255 836h1v4h-1zM255 845h1v4h-1zM254 840h2v1h-2zM254 841h3v1h-3zM253 842h4v1h-4zM252 843h6v2h-6zM260 827h3v1h-3zM268 827h3v1h-3zM265 820h1v5h-1zM265 830h1v5h-1zM264 825h2v1h-2zM264 826h3v1h-3zM263 827h4v1h-4zM262 828h6v2h-6zM270 789h3v1h-3zM278 789h3v1h-3zM275 781h1v6h-1zM275 792h1v6h-1zM274 787h2v1h-2zM274 788h3v1h-3zM273 789h4v1h-4zM272 790h6v2h-6zM280 756h3v1h-3zM288 756h3v1h-3zM285 747h1v7h-1zM285 759h1v7h-1zM284 754h2v1h-2zM284 755h3v1h-3zM283 756h4v1h-4zM282 757h6v2h-6zM290 717h4v1h-4zM299 717h3v1h-3zM296 706h1v9h-1zM296 720h1v9h-1zM295 715h2v1h-2zM295 716h3v1h-3zM294 717h4v1h-4zM293 718h6v2h-6zM301 711h3v1h-3zM309 711h3v1h-3zM306 700h1v9h-1zM306 714h1v9h-1zM305 709h2v1h-2zM305 710h3v1h-3zM304 711h4v1h-4zM303 712h6v2h-6zM311 650h3v1h-3zM319 650h3v1h-3zM316 637h1v11h-1zM316 653h1v11h-1zM315 648h2v1h-2zM315 649h3v1h-3zM314 650h4v1h-4zM313 651h6v2h-6zM321 627h3v1h-3zM329 627h3v1h-3zM326 614h1v11h-1zM326 630h1v11h-1zM325 625h2v1h-2zM325 626h3v1h-3zM324 627h4v1h-4zM323 628h6v2h-6zM331 565h3v1h-3zM339 565h3v1h-3zM336 550h1v13h-1zM336 568h1v13h-1zM335 563h2v1h-2zM335 564h3v1h-3zM334 565h4v1h-4zM333 566h6v2h-6zM341 514h4v1h-4zM350 514h3v1h-3zM347 498h1v14h-1zM347 517h1v14h-1zM346 512h2v1h-2zM346 513h3v1h-3zM345 514h4v1h-4zM344 515h6v2h-6zM352 471h3v1h-3zM360 471h3v1h-3zM357 454h1v15h-1zM357 474h1v15h-1zM356 469h2v1h-2zM356 470h3v1h-3zM355 471h4v1h-4zM354 472h6v2h-6zM362 439h3v1h-3zM370 439h3v1h-3zM367 422h1v15h-1zM367 442h1v15h-1zM366 437h2v1h-2zM366 438h3v1h-3zM365 439h4v1h-4zM364 440h6v2h-6zM372 372h3v1h-3zM380 372h3v1h-3zM377 353h1v17h-1zM377 375h1v17h-1zM376 370h2v1h-2zM376 371h3v1h-3zM375 372h4v1h-4zM374 373h6v2h-6zM382 352h3v1h-3zM390 352h3v1h-3zM387 333h1v17h-1zM387 355h1v17h-1zM386 350h2v1h-2zM386 351h3v1h-3zM385 352h4v1h-4zM384 353h6v2h-6zM392 299h4v1h-4zM401 299h3v1h-3zM398 279h1v18h-1zM398 302h1v18h-1zM397 297h2v1h-2zM397 298h3v1h-3zM396 299h4v1h-4zM395 300h6v2h-6zM403 311h3v1h-3zM411 311h3v1h-3zM408 291h1v18h-1zM408 314h1v18h-1zM407 309h2v1h-2zM407 310h3v1h-3zM406 311h4v1h-4zM405 312h6v2h-6zM413 272h3v1h-3zM421 272h3v1h-3zM418 252h1v18h-1zM418 275h1v18h-1zM417 270h2v1h-2zM417 271h3v1h-3zM416 272h4v1h-4zM415 273h6v2h-6zM423 233h3v1h-3zM431 233h3v1h-3zM428 212h1v19h-1zM428 236h1v19h-1zM427 231h2v1h-2zM427 232h3v1h-3zM426 233h4v1h-4zM425 234h6v2h-6zM433 270h3v1h-3zM441 270h4v1h-4zM438 250h1v18h-1zM438 273h1v18h-1zM437 268h2v1h-2zM437 269h3v1h-3zM436 270h4v1h-4zM435 271h6v2h-6zM444 247h3v1h-3zM452 247h3v1h-3zM449 226h1v19h-1zM449 250h1v19h-1zM448 245h2v1h-2zM448 246h3v1h-3zM447 247h4v1h-4zM446 248h6v2h-6zM454 210h3v1h-3zM462 210h3v1h-3zM459 189h1v19h-1zM459 213h1v19h-1zM458 208h2v1h-2zM458 209h3v1h-3zM457 210h4v1h-4zM456 211h6v2h-6zM464 245h3v1h-3zM472 245h3v1h-3zM469 224h1v19h-1zM469 248h1v19h-1zM468 243h2v1h-2zM468 244h3v1h-3zM467 245h4v1h-4zM466 246h6v2h-6zM474 298h3v1h-3zM482 298h3v1h-3zM479 278h1v18h-1zM479 301h1v18h-1zM478 296h2v1h-2zM478 297h3v1h-3zM477 298h4v1h-4zM476 299h6v2h-6zM484 335h3v1h-3zM492 335h4v1h-4zM489 316h1v17h-1zM489 338h1v17h-1zM488 333h2v1h-2zM488 334h3v1h-3zM487 335h4v1h-4zM486 336h6v2h-6zM495 318h3v1h-3zM503 318h3v1h-3zM500 298h1v18h-1zM500 321h1v18h-1zM499 316h2v1h-2zM499 317h3v1h-3zM498 318h4v1h-4zM497 319h6v2h-6zM505 340h3v1h-3zM513 340h3v1h-3zM510 321h1v17h-1zM510 343h1v17h-1zM509 338h2v1h-2zM509 339h3v1h-3zM508 340h4v1h-4zM507 341h6v2h-6zM515 360h3v1h-3zM523 360h3v1h-3zM520 341h1v17h-1zM520 363h1v17h-1zM519 358h2v1h-2zM519 359h3v1h-3zM518 360h4v1h-4zM517 361h6v2h-6zM525 394h3v1h-3zM533 394h3v1h-3zM530 376h1v16h-1zM530 397h1v16h-1zM529 392h2v1h-2zM529 393h3v1h-3zM528 394h4v1h-4zM527 395h6v2h-6zM535 426h4v1h-4zM544 426h3v1h-3zM541 408h1v16h-1zM541 429h1v16h-1zM540 424h2v1h-2zM540 425h3v1h-3zM539 426h4v1h-4zM538 427h6v2h-6zM546 462h3v1h-3zM554 462h3v1h-3zM551 445h1v15h-1zM551 465h1v15h-1zM550 460h2v1h-2zM550 461h3v1h-3zM549 462h4v1h-4zM548 463h6v2h-6zM556 465h3v1h-3zM564 465h3v1h-3zM561 448h1v15h-1zM561 468h1v15h-1zM560 463h2v1h-2zM560 464h3v1h-3zM559 465h4v1h-4zM558 466h6v2h-6zM566 503h3v1h-3zM574 503h3v1h-3zM571 487h1v14h-1zM571 506h1v14h-1zM570 501h2v1h-2zM570 502h3v1h-3zM569 503h4v1h-4zM568 504h6v2h-6zM576 552h3v1h-3zM584 552h3v1h-3zM581 537h1v13h-1zM581 555h1v13h-1zM580 550h2v1h-2zM580 551h3v1h-3zM579 552h4v1h-4zM578 553h6v2h-6zM586 568h4v1h-4zM595 568h3v1h-3zM592 553h1v13h-1zM592 571h1v13h-1zM591 566h2v1h-2zM591 567h3v1h-3zM590 568h4v1h-4zM589 569h6v2h-6zM597 585h3v1h-3zM605 585h3v1h-3zM602 571h1v12h-1zM602 588h1v12h-1zM601 583h2v1h-2zM601 584h3v1h-3zM600 585h4v1h-4zM599 586h6v2h-6zM607 613h3v1h-3zM615 613h3v1h-3zM612 599h1v12h-1zM612 616h1v12h-1zM611 611h2v1h-2zM611 612h3v1h-3zM610 613h4v1h-4zM609 614h6v2h-6zM617 641h3v1h-3zM625 641h3v1h-3zM622 628h1v11h-1zM622 644h1v11h-1zM621 639h2v1h-2zM621 640h3v1h-3zM620 641h4v1h-4zM619 642h6v2h-6zM627 643h3v1h-3zM635 643h4v1h-4zM632 630h1v11h-1zM632 646h1v11h-1zM631 641h2v1h-2zM631 642h3v1h-3zM630 643h4v1h-4zM629 644h6v2h-6zM638 655h3v1h-3zM646 655h3v1h-3zM643 642h1v11h-1zM643 658h1v11h-1zM642 653h2v1h-2zM642 654h3v1h-3zM641 655h4v1h-4zM640 656h6v2h-6zM648 681h3v1h-3zM656 681h3v1h-3zM653 669h1v10h-1zM653 684h1v10h-1zM652 679h2v1h-2zM652 680h3v1h-3zM651 681h4v1h-4zM650 682h6v2h-6zM658 701h3v1h-3zM666 701h3v1h-3zM663 690h1v9h-1zM663 704h1v9h-1zM662 699h2v1h-2zM662 700h3v1h-3zM661 701h4v1h-4zM660 702h6v2h-6zM668 713h3v1h-3zM676 713h3v1h-3zM673 702h1v9h-1zM673 716h1v9h-1zM672 711h2v1h-2zM672 712h3v1h-3zM671 713h4v1h-4zM670 714h6v2h-6zM678 733h3v1h-3zM686 733h4v1h-4zM683 723h1v8h-1zM683 736h1v8h-1zM682 731h2v1h-2zM682 732h3v1h-3zM681 733h4v1h-4zM680 734h6v2h-6zM689 726h3v1h-3zM697 726h3v1h-3zM694 716h1v8h-1zM694 729h1v8h-1zM693 724h2v1h-2zM693 725h3v1h-3zM692 726h4v1h-4zM691 727h6v2h-6zM699 748h3v1h-3zM707 748h3v1h-3zM704 738h1v8h-1zM704 751h1v8h-1zM703 746h2v1h-2zM703 747h3v1h-3zM702 748h4v1h-4zM701 749h6v2h-6zM709 756h3v1h-3zM717 756h3v1h-3zM714 747h1v7h-1zM714 759h1v7h-1zM713 754h2v1h-2zM713 755h3v1h-3zM712 756h4v1h-4zM711 757h6v2h-6zM719 776h3v1h-3zM727 776h3v1h-3zM724 767h1v7h-1zM724 779h1v7h-1zM723 774h2v1h-2zM723 775h3v1h-3zM722 776h4v1h-4zM721 777h6v2h-6zM729 780h3v1h-3zM737 780h4v1h-4zM734 771h1v7h-1zM734 783h1v7h-1zM733 778h2v1h-2zM733 779h3v1h-3zM732 780h4v1h-4zM731 781h6v2h-6zM740 780h3v1h-3zM748 780h3v1h-3zM745 771h1v7h-1zM745 783h1v7h-1zM744 778h2v1h-2zM744 779h3v1h-3zM743 780h4v1h-4zM742 781h6v2h-6zM750 792h3v1h-3zM758 792h3v1h-3zM755 784h1v6h-1zM755 795h1v6h-1zM754 790h2v1h-2zM754 791h3v1h-3zM753 792h4v1h-4zM752 793h6v2h-6zM760 813h3v1h-3zM768 813h3v1h-3zM765 806h1v5h-1zM765 816h1v5h-1zM764 811h2v1h-2zM764 812h3v1h-3zM763 813h4v1h-4zM762 814h6v2h-6zM770 790h3v1h-3zM778 790h3v1h-3zM775 782h1v6h-1zM775 793h1v6h-1zM774 788h2v1h-2zM774 789h3v1h-3zM773 790h4v1h-4zM772 791h6v2h-6zM780 799h4v1h-4zM789 799h3v1h-3zM786 791h1v6h-1zM786 802h1v6h-1zM785 797h2v1h-2zM785 798h3v1h-3zM784 799h4v1h-4zM783 800h6v2h-6zM791 812h3v1h-3zM799 812h3v1h-3zM796 805h1v5h-1zM796 815h1v5h-1zM795 810h2v1h-2zM795 811h3v1h-3zM794 812h4v1h-4zM793 813h6v2h-6zM801 810h3v1h-3zM809 810h3v1h-3zM806 803h1v5h-1zM806 813h1v5h-1zM805 808h2v1h-2zM805 809h3v1h-3zM804 810h4v1h-4zM803 811h6v2h-6zM811 819h3v1h-3zM819 819h3v1h-3zM816 812h1v5h-1zM816 822h1v5h-1zM815 817h2v1h-2zM815 818h3v1h-3zM814 819h4v1h-4zM813 820h6v2h-6zM821 825h3v1h-3zM829 825h3v1h-3zM826 818h1v5h-1zM826 828h1v5h-1zM825 823h2v1h-2zM825 824h3v1h-3zM824 825h4v1h-4zM823 826h6v2h-6zM831 833h4v1h-4zM840 833h3v1h-3zM837 827h1v4h-1zM837 836h1v4h-1zM836 831h2v1h-2zM836 832h3v1h-3zM835 833h4v1h-4zM834 834h6v2h-6zM842 833h3v1h-3zM850 833h3v1h-3zM847 827h1v4h-1zM847 836h1v4h-1zM846 831h2v1h-2zM846 832h3v1h-3zM845 833h4v1h-4zM844 834h6v2h-6zM852 836h3v1h-3zM860 836h3v1h-3zM857 830h1v4h-1zM857 839h1v4h-1zM856 834h2v1h-2zM856 835h3v1h-3zM855 836h4v1h-4zM854 837h6v2h-6zM862 826h3v1h-3zM870 826h3v1h-3zM867 819h1v5h-1zM867 829h1v5h-1zM866 824h2v1h-2zM866 825h3v1h-3zM865 826h4v1h-4zM864 827h6v2h-6zM872 844h3v1h-3zM880 844h4v1h-4zM877 838h1v4h-1zM877 847h1v4h-1zM876 842h2v1h-2zM876 843h3v1h-3zM875 844h4v1h-4zM874 845h6v2h-6zM883 834h3v1h-3zM891 834h3v1h-3zM888 828h1v4h-1zM888 837h1v4h-1zM887 832h2v1h-2zM887 833h3v1h-3zM886 834h4v1h-4zM885 835h6v2h-6zM893 841h3v1h-3zM901 841h3v1h-3zM898 835h1v4h-1zM898 844h1v4h-1zM897 839h2v1h-2zM897 840h3v1h-3zM896 841h4v1h-4zM895 842h6v2h-6zM903 840h3v1h-3zM911 840h3v1h-3zM908 834h1v4h-1zM908 843h1v4h-1zM907 838h2v1h-2zM907 839h3v1h-3zM906 840h4v1h-4zM905 841h6v2h-6zM913 840h3v1h-3zM921 840h3v1h-3zM918 834h1v4h-1zM918 843h1v4h-1zM917 838h2v1h-2zM917 839h3v1h-3zM916 840h4v1h-4zM915 841h6v2h-6zM923 840h3v1h-3zM931 840h4v1h-4zM928 834h1v4h-1zM928 843h1v4h-1zM927 838h2v1h-2zM927 839h3v1h-3zM926 840h4v1h-4zM925 841h6v2h-6zM934 848h3v1h-3zM942 848h3v1h-3zM939 843h1v3h-1zM939 851h1v3h-1zM938 846h2v1h-2zM938 847h3v1h-3zM937 848h4v1h-4zM936 849h6v2h-6zM944 853h3v1h-3zM952 853h3v1h-3zM949 848h1v3h-1zM949 856h1v3h-1zM948 851h2v1h-2zM948 852h3v1h-3zM947 853h4v1h-4zM946 854h6v2h-6zM954 856h3v1h-3zM962 856h3v1h-3zM959 851h1v3h-1zM959 859h1v3h-1zM958 854h2v1h-2zM958 855h3v1h-3zM957 856h4v1h-4zM956 857h6v2h-6zM964 857h3v1h-3zM972 857h3v1h-3zM969 852h1v3h-1zM969 860h1v3h-1zM968 855h2v1h-2zM968 856h3v1h-3zM967 857h4v1h-4zM966 858h6v2h-6zM974 846h3v1h-3zM982 846h4v1h-4zM979 840h1v4h-1zM979 849h1v4h-1zM978 844h2v1h-2zM978 845h3v1h-3zM977 846h4v1h-4zM976 847h6v2h-6zM985 868h3v1h-3zM993 868h3v1h-3zM990 864h1v2h-1zM990 871h1v2h-1zM989 866h2v1h-2zM989 867h3v1h-3zM988 868h4v1h-4zM987 869h6v2h-6zM995 852h3v1h-3zM1003 852h3v1h-3zM1000 847h1v3h-1zM1000 855h1v3h-1zM999 850h2v1h-2zM999 851h3v1h-3zM998 852h4v1h-4zM997 853h6v2h-6zM1005 857h3v1h-3zM1013 857h3v1h-3zM1010 852h1v3h-1zM1010 860h1v3h-1zM1009 855h2v1h-2zM1009 856h3v1h-3zM1008 857h4v1h-4zM1007 858h6v2h-6zM1015 861h3v1h-3zM1023 861h3v1h-3zM1020 856h1v3h-1zM1020 864h1v3h-1zM1019 859h2v1h-2zM1019 860h3v1h-3zM1018 861h4v1h-4zM1017 862h6v2h-6zM1025 856h4v1h-4zM1034 856h3v1h-3zM1031 851h1v3h-1zM1031 859h1v3h-1zM1030 854h2v1h-2zM1030 855h3v1h-3zM1029 856h4v1h-4zM1028 857h6v2h-6zM1036 863h3v1h-3zM1044 863h3v1h-3zM1041 859h1v2h-1zM1041 866h1v2h-1zM1040 861h2v1h-2zM1040 862h3v1h-3zM1039 863h4v1h-4zM1038 864h6v2h-6zM1046 863h3v1h-3zM1054 863h3v1h-3zM1051 859h1v2h-1zM1051 866h1v2h-1zM1050 861h2v1h-2zM1050 862h3v1h-3zM1049 863h4v1h-4zM1048 864h6v2h-6zM1056 861h3v1h-3zM1064 861h3v1h-3zM1061 856h1v3h-1zM1061 864h1v3h-1zM1060 859h2v1h-2zM1060 860h3v1h-3zM1059 861h4v1h-4zM1058 862h6v2h-6zM1066 869h3v1h-3zM1074 869h4v1h-4zM1071 865h1v2h-1zM1071 872h1v2h-1zM1070 867h2v1h-2zM1070 868h3v1h-3zM1069 869h4v1h-4zM1068 870h6v2h-6zM1077 857h3v1h-3zM1085 857h3v1h-3zM1082 852h1v3h-1zM1082 860h1v3h-1zM1081 855h2v1h-2zM1081 856h3v1h-3zM1080 857h4v1h-4zM1079 858h6v2h-6zM1087 868h3v1h-3zM1095 868h3v1h-3zM1092 864h1v2h-1zM1092 871h1v2h-1zM1091 866h2v1h-2zM1091 867h3v1h-3zM1090 868h4v1h-4zM1089 869h6v2h-6zM1097 860h3v1h-3zM1105 860h3v1h-3zM1102 855h1v3h-1zM1102 863h1v3h-1zM1101 858h2v1h-2zM1101 859h3v1h-3zM1100 860h4v1h-4zM1099 861h6v2h-6zM1107 870h3v1h-3zM1115 870h3v1h-3zM1112 866h1v2h-1zM1112 873h1v2h-1zM1111 868h2v1h-2zM1111 869h3v1h-3zM1110 870h4v1h-4zM1109 871h6v2h-6zM1117 869h3v1h-3zM1125 869h4v1h-4zM1122 865h1v2h-1zM1122 872h1v2h-1zM1121 867h2v1h-2zM1121 868h3v1h-3zM1120 869h4v1h-4zM1119 870h6v2h-6zM1128 868h3v1h-3zM1136 868h3v1h-3zM1133 864h1v2h-1zM1133 871h1v2h-1zM1132 866h2v1h-2zM1132 867h3v1h-3zM1131 868h4v1h-4zM1130 869h6v2h-6z"/>
<path id="ghost" fill="#000000" shape-rendering="crispEdges" d="M127 896h3v1h-3zM135 896h3v1h-3zM132 893h1v1h-1zM131 894h2v1h-2zM130 895h4v3h-4zM131 898h2v1h-2zM137 896h3v1h-3zM145 896h3v1h-3zM142 893h1v1h-1zM141 894h2v1h-2zM140 895h4v3h-4zM141 898h2v1h-2zM147 896h4v1h-4zM156 896h3v1h-3zM153 893h1v1h-1zM152 894h2v1h-2zM151 895h4v3h-4zM152 898h2v1h-2zM158 896h3v1h-3zM166 896h3v1h-3zM163 893h1v1h-1zM162 894h2v1h-2zM161 895h4v3h-4zM162 898h2v1h-2zM168 896h3v1h-3zM176 896h3v1h-3zM173 893h1v1h-1zM172 894h2v1h-2zM171 895h4v3h-4zM172 898h2v1h-2zM178 896h3v1h-3zM186 896h3v1h-3zM183 893h1v1h-1zM182 894h2v1h-2zM181 895h4v3h-4zM182 898h2v1h-2zM188 895h3v1h-3zM196 895h3v1h-3zM193 892h1v1h-1zM192 893h2v1h-2zM191 894h4v3h-4zM192 897h2v1h-2zM198 895h4v1h-4zM207 895h3v1h-3zM204 892h1v1h-1zM203 893h2v1h-2zM202 894h4v3h-4zM203 897h2v1h-2zM209 895h3v1h-3zM217 895h3v1h-3zM214 892h1v1h-1zM213 893h2v1h-2zM212 894h4v3h-4zM213 897h2v1h-2zM219 894h3v1h-3zM227 894h3v1h-3zM224 891h1v1h-1zM223 892h2v1h-2zM222 893h4v3h-4zM223 896h2v1h-2zM229 892h3v1h-3zM237 892h3v1h-3zM234 889h1v1h-1zM233 890h2v1h-2zM232 891h4v3h-4zM233 894h2v1h-2zM239 891h3v1h-3zM247 891h4v1h-4zM244 888h1v1h-1zM243 889h2v1h-2zM242 890h4v3h-4zM243 893h2v1h-2zM250 890h3v1h-3zM258 890h3v1h-3zM255 887h1v1h-1zM254 888h2v1h-2zM253 889h4v3h-4zM254 892h2v1h-2zM260 888h3v1h-3zM268 888h3v1h-3zM265 885h1v1h-1zM264 886h2v1h-2zM263 887h4v3h-4zM264 890h2v1h-2zM270 886h3v1h-3zM278 886h3v1h-3zM275 883h1v1h-1zM274 884h2v1h-2zM273 885h4v3h-4zM274 888h2v1h-2zM280 884h3v1h-3zM288 884h3v1h-3zM285 881h1v1h-1zM284 882h2v1h-2zM283 883h4v3h-4zM284 886h2v1h-2zM290 880h4v1h-4zM299 880h3v1h-3zM296 877h1v1h-1zM295 878h2v1h-2zM294 879h4v3h-4zM295 882h2v1h-2zM301 877h3v1h-3zM309 877h3v1h-3zM306 874h1v1h-1zM305 875h2v1h-2zM304 876h4v3h-4zM305 879h2v1h-2zM311 873h3v1h-3zM319 873h3v1h-3zM316 870h1v1h-1zM315 871h2v1h-2zM314 872h4v3h-4zM315 875h2v1h-2zM321 869h3v1h-3zM329 869h3v1h-3zM326 866h1v1h-1zM325 867h2v1h-2zM324 868h4v3h-4zM325 871h2v1h-2zM331 864h3v1h-3zM339 864h3v1h-3zM336 861h1v1h-1zM335 862h2v1h-2zM334 863h4v3h-4zM335 866h2v1h-2zM341 859h4v1h-4zM350 859h3v1h-3zM347 856h1v1h-1zM346 857h2v1h-2zM345 858h4v3h-4zM346 861h2v1h-2zM352 853h3v1h-3zM360 853h3v1h-3zM357 850h1v1h-1zM356 851h2v1h-2zM355 852h4v3h-4zM356 855h2v1h-2zM362 847h3v1h-3zM370 847h3v1h-3zM367 844h1v1h-1zM366 845h2v1h-2zM365 846h4v3h-4zM366 849h2v1h-2zM372 842h3v1h-3zM380 842h3v1h-3zM377 839h1v1h-1zM376 840h2v1h-2zM375 841h4v3h-4zM376 844h2v1h-2zM382 834h3v1h-3zM390 834h3v1h-3zM387 831h1v1h-1zM386 832h2v1h-2zM385 833h4v3h-4zM386 836h2v1h-2zM392 828h4v1h-4zM401 828h3v1h-3zM398 825h1v1h-1zM397 826h2v1h-2zM396 827h4v3h-4zM397 830h2v1h-2zM403 819h3v1h-3zM411 819h3v1h-3zM408 816h1v1h-1zM407 817h2v1h-2zM406 818h4v3h-4zM407 821h2v1h-2zM413 813h3v1h-3zM421 813h3v1h-3zM418 810h1v1h-1zM417 811h2v1h-2zM416 812h4v3h-4zM417 815h2v1h-2zM423 806h3v1h-3zM431 806h3v1h-3zM428 803h1v1h-1zM427 804h2v1h-2zM426 805h4v3h-4zM427 808h2v1h-2zM433 797h3v1h-3zM441 797h4v1h-4zM438 794h1v1h-1zM437 795h2v1h-2zM436 796h4v3h-4zM437 799h2v1h-2zM444 790h3v1h-3zM452 790h3v1h-3zM449 787h1v1h-1zM448 788h2v1h-2zM447 789h4v3h-4zM448 792h2v1h-2zM454 782h3v1h-3zM462 782h3v1h-3zM459 779h1v1h-1zM458 780h2v1h-2zM457 781h4v3h-4zM458 784h2v1h-2zM464 773h3v1h-3zM472 773h3v1h-3zM469 770h1v1h-1zM468 771h2v1h-2zM467 772h4v3h-4zM468 775h2v1h-2zM474 766h3v1h-3zM482 766h3v1h-3zM479 763h1v1h-1zM478 764h2v1h-2zM477 765h4v3h-4zM478 768h2v1h-2zM484 755h3v1h-3zM492 755h4v1h-4zM489 752h1v1h-1zM488 753h2v1h-2zM487 754h4v3h-4zM488 757h2v1h-2zM495 747h3v1h-3zM503 747h3v1h-3zM500 744h1v1h-1zM499 745h2v1h-2zM498 746h4v3h-4zM499 749h2v1h-2zM505 737h3v1h-3zM513 737h3v1h-3zM510 734h1v1h-1zM509 735h2v1h-2zM508 736h4v3h-4zM509 739h2v1h-2zM515 731h3v1h-3zM523 731h3v1h-3zM520 728h1v1h-1zM519 729h2v1h-2zM518 730h4v3h-4zM519 733h2v1h-2zM525 720h3v1h-3zM533 720h3v1h-3zM530 717h1v1h-1zM529 718h2v1h-2zM528 719h4v3h-4zM529 722h2v1h-2zM535 712h4v1h-4zM544 712h3v1h-3zM541 709h1v1h-1zM540 710h2v1h-2zM539 711h4v3h-4zM540 714h2v1h-2zM546 701h3v1h-3zM554 701h3v1h-3zM551 698h1v1h-1zM550 699h2v1h-2zM549 700h4v3h-4zM550 703h2v1h-2zM556 692h3v1h-3zM564 692h3v1h-3zM561 689h1v1h-1zM560 690h2v1h-2zM559 691h4v3h-4zM560 694h2v1h-2zM566 683h3v1h-3zM574 683h3v1h-3zM571 680h1v1h-1zM570 681h2v1h-2zM569 682h4v3h-4zM570 685h2v1h-2zM576 675h3v1h-3zM584 675h3v1h-3zM581 672h1v1h-1zM580 673h2v1h-2zM579 674h4v3h-4zM580 677h2v1h-2zM586 666h4v1h-4zM595 666h3v1h-3zM592 663h1v1h-1zM591 664h2v1h-2zM590 665h4v3h-4zM591 668h2v1h-2zM597 656h3v1h-3zM605 656h3v1h-3zM602 653h1v1h-1zM601 654h2v1h-2zM600 655h4v3h-4zM601 658h2v1h-2zM607 650h3v1h-3zM615 650h3v1h-3zM612 647h1v1h-1zM611 648h2v1h-2zM610 649h4v3h-4zM611 652h2v1h-2zM617 641h3v1h-3zM625 641h3v1h-3zM622 638h1v1h-1zM621 639h2v1h-2zM620 640h4v3h-4zM621 643h2v1h-2zM627 631h3v1h-3zM635 631h4v1h-4zM632 628h1v1h-1zM631 629h2v1h-2zM630 630h4v3h-4zM631 633h2v1h-2zM638 624h3v1h-3zM646 624h3v1h-3zM643 621h1v1h-1zM642 622h2v1h-2zM641 623h4v3h-4zM642 626h2v1h-2zM648 617h3v1h-3zM656 617h3v1h-3zM653 614h1v1h-1zM652 615h2v1h-2zM651 616h4v3h-4zM652 619h2v1h-2zM658 607h3v1h-3zM666 607h3v1h-3zM663 604h1v1h-1zM662 605h2v1h-2zM661 606h4v3h-4zM662 609h2v1h-2zM668 602h3v1h-3zM676 602h3v1h-3zM673 599h1v1h-1zM672 600h2v1h-2zM671 601h4v3h-4zM672 604h2v1h-2zM678 596h3v1h-3zM686 596h4v1h-4zM683 593h1v1h-1zM682 594h2v1h-2zM681 595h4v3h-4zM682 598h2v1h-2zM689 587h3v1h-3zM697 587h3v1h-3zM694 584h1v1h-1zM693 585h2v1h-2zM692 586h4v3h-4zM693 589h2v1h-2zM699 583h3v1h-3zM707 583h3v1h-3zM704 580h1v1h-1zM703 581h2v1h-2zM702 582h4v3h-4zM703 585h2v1h-2zM709 575h3v1h-3zM717 575h3v1h-3zM714 572h1v1h-1zM713 573h2v1h-2zM712 574h4v3h-4zM713 577h2v1h-2zM719 571h3v1h-3zM727 571h3v1h-3zM724 568h1v1h-1zM723 569h2v1h-2zM722 570h4v3h-4zM723 573h2v1h-2zM729 566h3v1h-3zM737 566h4v1h-4zM734 563h1v1h-1zM733 564h2v1h-2zM732 565h4v3h-4zM733 568h2v1h-2zM740 564h3v1h-3zM748 564h3v1h-3zM745 561h1v1h-1zM744 562h2v1h-2zM743 563h4v3h-4zM744 566h2v1h-2zM750 562h3v1h-3zM758 562h3v1h-3zM755 559h1v1h-1zM754 560h2v1h-2zM753 561h4v3h-4zM754 564h2v1h-2zM760 557h3v1h-3zM768 557h3v1h-3zM765 554h1v1h-1zM764 555h2v1h-2zM763 556h4v3h-4zM764 559h2v1h-2zM770 553h3v1h-3zM778 553h3v1h-3zM775 550h1v1h-1zM774 551h2v1h-2zM773 552h4v3h-4zM774 555h2v1h-2zM780 554h4v1h-4zM789 554h3v1h-3zM786 551h1v1h-1zM785 552h2v1h-2zM784 553h4v3h-4zM785 556h2v1h-2zM791 551h3v1h-3zM799 551h3v1h-3zM796 548h1v1h-1zM795 549h2v1h-2zM794 550h4v3h-4zM795 553h2v1h-2zM801 548h3v1h-3zM809 548h3v1h-3zM806 545h1v1h-1zM805 546h2v1h-2zM804 547h4v3h-4zM805 550h2v1h-2zM811 549h3v1h-3zM819 549h3v1h-3zM816 546h1v1h-1zM815 547h2v1h-2zM814 548h4v3h-4zM815 551h2v1h-2zM821 547h3v1h-3zM829 547h3v1h-3zM826 544h1v1h-1zM825 545h2v1h-2zM824 546h4v3h-4zM825 549h2v1h-2zM831 548h4v1h-4zM840 548h3v1h-3zM837 545h1v1h-1zM836 546h2v1h-2zM835 547h4v3h-4zM836 550h2v1h-2zM842 551h3v1h-3zM850 551h3v1h-3zM847 548h1v1h-1zM846 549h2v1h-2zM845 550h4v3h-4zM846 553h2v1h-2zM852 549h3v1h-3zM860 549h3v1h-3zM857 546h1v1h-1zM856 547h2v1h-2zM855 548h4v3h-4zM856 551h2v1h-2zM862 549h3v1h-3zM870 549h3v1h-3zM867 546h1v1h-1zM866 547h2v1h-2zM865 548h4v3h-4zM866 551h2v1h-2zM872 554h3v1h-3zM880 554h4v1h-4zM877 551h1v1h-1zM876 552h2v1h-2zM875 553h4v3h-4zM876 556h2v1h-2zM883 553h3v1h-3zM891 553h3v1h-3zM888 550h1v1h-1zM887 551h2v1h-2zM886 552h4v3h-4zM887 555h2v1h-2zM893 558h3v1h-3zM901 558h3v1h-3zM898 555h1v1h-1zM897 556h2v1h-2zM896 557h4v3h-4zM897 560h2v1h-2zM903 560h3v1h-3zM911 560h3v1h-3zM908 557h1v1h-1zM907 558h2v1h-2zM906 559h4v3h-4zM907 562h2v1h-2zM913 560h3v1h-3zM921 560h3v1h-3zM918 557h1v1h-1zM917 558h2v1h-2zM916 559h4v3h-4zM917 562h2v1h-2zM923 563h3v1h-3zM931 563h4v1h-4zM928 560h1v1h-1zM927 561h2v1h-2zM926 562h4v3h-4zM927 565h2v1h-2zM934 565h3v1h-3zM942 565h3v1h-3zM939 562h1v1h-1zM938 563h2v1h-2zM937 564h4v3h-4zM938 567h2v1h-2zM944 568h3v1h-3zM952 568h3v1h-3zM949 565h1v1h-1zM948 566h2v1h-2zM947 567h4v3h-4zM948 570h2v1h-2zM954 574h3v1h-3zM962 574h3v1h-3zM959 571h1v1h-1zM958 572h2v1h-2zM957 573h4v3h-4zM958 576h2v1h-2zM964 576h3v1h-3zM972 576h3v1h-3zM969 573h1v1h-1zM968 574h2v1h-2zM967 575h4v3h-4zM968 578h2v1h-2zM974 582h3v1h-3zM982 582h4v1h-4zM979 579h1v1h-1zM978 580h2v1h-2zM977 581h4v3h-4zM978 584h2v1h-2zM985 583h3v1h-3zM993 583h3v1h-3zM990 580h1v1h-1zM989 581h2v1h-2zM988 582h4v3h-4zM989 585h2v1h-2zM995 590h3v1h-3zM1003 590h3v1h-3zM1000 587h1v1h-1zM999 588h2v1h-2zM998 589h4v3h-4zM999 592h2v1h-2zM1005 593h3v1h-3zM1013 593h3v1h-3zM1010 590h1v1h-1zM1009 591h2v1h-2zM1008 592h4v3h-4zM1009 595h2v1h-2zM1015 594h3v1h-3zM1023 594h3v1h-3zM1020 591h1v1h-1zM1019 592h2v1h-2zM1018 593h4v3h-4zM1019 596h2v1h-2zM1025 596h4v1h-4zM1034 596h3v1h-3zM1031 593h1v1h-1zM1030 594h2v1h-2zM1029 595h4v3h-4zM1030 598h2v1h-2zM1036 600h3v1h-3zM1044 600h3v1h-3zM1041 597h1v1h-1zM1040 598h2v1h-2zM1039 599h4v3h-4zM1040 602h2v1h-2zM1046 605h3v1h-3zM1054 605h3v1h-3zM1051 602h1v1h-1zM1050 603h2v1h-2zM1049 604h4v3h-4zM1050 607h2v1h-2zM1056 608h3v1h-3zM1064 608h3v1h-3zM1061 605h1v1h-1zM1060 606h2v1h-2zM1059 607h4v3h-4zM1060 610h2v1h-2zM1066 613h3v1h-3zM1074 613h4v1h-4zM1071 610h1v1h-1zM1070 611h2v1h-2zM1069 612h4v3h-4zM1070 615h2v1h-2zM1077 617h3v1h-3zM1085 617h3v1h-3zM1082 614h1v1h-1zM1081 615h2v1h-2zM1080 616h4v3h-4zM1081 619h2v1h-2zM1087 621h3v1h-3zM1095 621h3v1h-3zM1092 618h1v1h-1zM1091 619h2v1h-2zM1090 620h4v3h-4zM1091 623h2v1h-2zM1097 625h3v1h-3zM1105 625h3v1h-3zM1102 622h1v1h-1zM1101 623h2v1h-2zM1100 624h4v3h-4zM1101 627h2v1h-2zM1107 630h3v1h-3zM1115 630h3v1h-3zM1112 627h1v1h-1zM1111 628h2v1h-2zM1110 629h4v3h-4zM1111 632h2v1h-2zM1117 633h3v1h-3zM1125 633h4v1h-4zM1122 630h1v1h-1zM1121 631h2v1h-2zM1120 632h4v3h-4zM1121 635h2v1h-2zM1128 652h3v1h-3zM1136 652h3v1h-3zM1133 649h1v1h-1zM1132 650h2v1h-2zM1131 651h4v3h-4zM1132 654h2v1h-2z"/>
<text transform="translate(121.5 906.8) scale(1 1.06)" font-size="28" text-anchor="end" stroke="#000" stroke-width="0.35">0</text>
<text transform="translate(121.5 807.8) scale(1 1.06)" font-size="28" text-anchor="end" stroke="#000" stroke-width="0.35">0.005</text>
<text transform="translate(121.5 708.8) scale(1 1.06)" font-size="28" text-anchor="end" stroke="#000" stroke-width="0.35">0.01</text>
<text transform="translate(121.5 610.8) scale(1 1.06)" font-size="28" text-anchor="end" stroke="#000" stroke-width="0.35">0.015</text>
<text transform="translate(121.5 511.8) scale(1 1.06)" font-size="28" text-anchor="end" stroke="#000" stroke-width="0.35">0.02</text>
<text transform="translate(121.5 412.8) scale(1 1.06)" font-size="28" text-anchor="end" stroke="#000" stroke-width="0.35">0.025</text>
<text transform="translate(121.5 313.8) scale(1 1.06)" font-size="28" text-anchor="end" stroke="#000" stroke-width="0.35">0.03</text>
<text transform="translate(121.5 214.8) scale(1 1.06)" font-size="28" text-anchor="end" stroke="#000" stroke-width="0.35">0.035</text>
<text transform="translate(121.5 116.8) scale(1 1.06)" font-size="28" text-anchor="end" stroke="#000" stroke-width="0.35">0.04</text>
<text transform="translate(247.3 934.5) scale(1 1.06)" font-size="28" text-anchor="middle" stroke="#000" stroke-width="0.35">0.5</text>
<text transform="translate(425.3 934.5) scale(1 1.06)" font-size="28" text-anchor="middle" stroke="#000" stroke-width="0.35">1</text>
<text transform="translate(603.3 934.5) scale(1 1.06)" font-size="28" text-anchor="middle" stroke="#000" stroke-width="0.35">1.5</text>
<text transform="translate(781.3 934.5) scale(1 1.06)" font-size="28" text-anchor="middle" stroke="#000" stroke-width="0.35">2</text>
<text transform="translate(959.3 934.5) scale(1 1.06)" font-size="28" text-anchor="middle" stroke="#000" stroke-width="0.35">2.5</text>
<text transform="translate(1137.2 934.5) scale(1 1.06)" font-size="28" text-anchor="middle" stroke="#000" stroke-width="0.35">3</text>
<text transform="translate(726.3 971.0) scale(1 1.07)" font-size="28.2" text-anchor="start" stroke="#000" stroke-width="0.35" textLength="421.4" lengthAdjust="spacingAndGlyphs">Long Electron TrackChi2PerDof</text>
<rect x="599" y="105" width="87.5" height="148" fill="#000"/>
<rect x="593.5" y="99.5" width="89" height="150" fill="#f0f0f0" stroke="#000" stroke-width="1"/>
<text transform="translate(604.5 116.8) scale(1 1.03)" font-size="18.85" text-anchor="start" stroke="#000" stroke-width="0.25">Electron</text>
<text transform="translate(604.5 141.8) scale(1 1.03)" font-size="18.85" text-anchor="start" stroke="#000" stroke-width="0.25">Muon</text>
<text transform="translate(604.5 166.7) scale(1 1.03)" font-size="18.85" text-anchor="start" stroke="#000" stroke-width="0.25">Pion</text>
<text transform="translate(604.5 191.7) scale(1 1.03)" font-size="18.85" text-anchor="start" stroke="#000" stroke-width="0.25">Kaon</text>
<text transform="translate(604.5 216.6) scale(1 1.03)" font-size="18.85" text-anchor="start" stroke="#000" stroke-width="0.25">Proton</text>
<text transform="translate(604.5 241.6) scale(1 1.03)" font-size="18.85" text-anchor="start" stroke="#000" stroke-width="0.25">Ghost</text>
<path fill="#ff0000" shape-rendering="crispEdges" d="M597 110h2v1h-2zM597 111h3v1h-3zM596 112h4v1h-4zM595 113h6v2h-6z"/>
<path fill="#0000ff" d="M594.8 135.2L597.2 132.8L599.8 132.8L602.2 135.2L602.2 137.8L599.8 140.2L597.2 140.2L594.8 137.8z"/>
<path fill="#009900" shape-rendering="crispEdges" d="M594 157h7v1h-7zM595 158h6v1h-6zM596 159h5v1h-5zM596 160h4v1h-4zM597 161h3v1h-3zM597 162h2v1h-2zM598 163h1v1h-1z"/>
<path fill="#990099" shape-rendering="crispEdges" d="M594 182h6v6h-6z"/>
<path fill="#66cccc" shape-rendering="crispEdges" d="M596 207h3v2h-3zM594 209h7v3h-7zM596 212h3v2h-3z"/>
<path fill="#000000" shape-rendering="crispEdges" d="M598 233h1v1h-1zM597 234h2v1h-2zM596 235h4v3h-4zM597 238h2v1h-2z"/>
</svg></body></html>
